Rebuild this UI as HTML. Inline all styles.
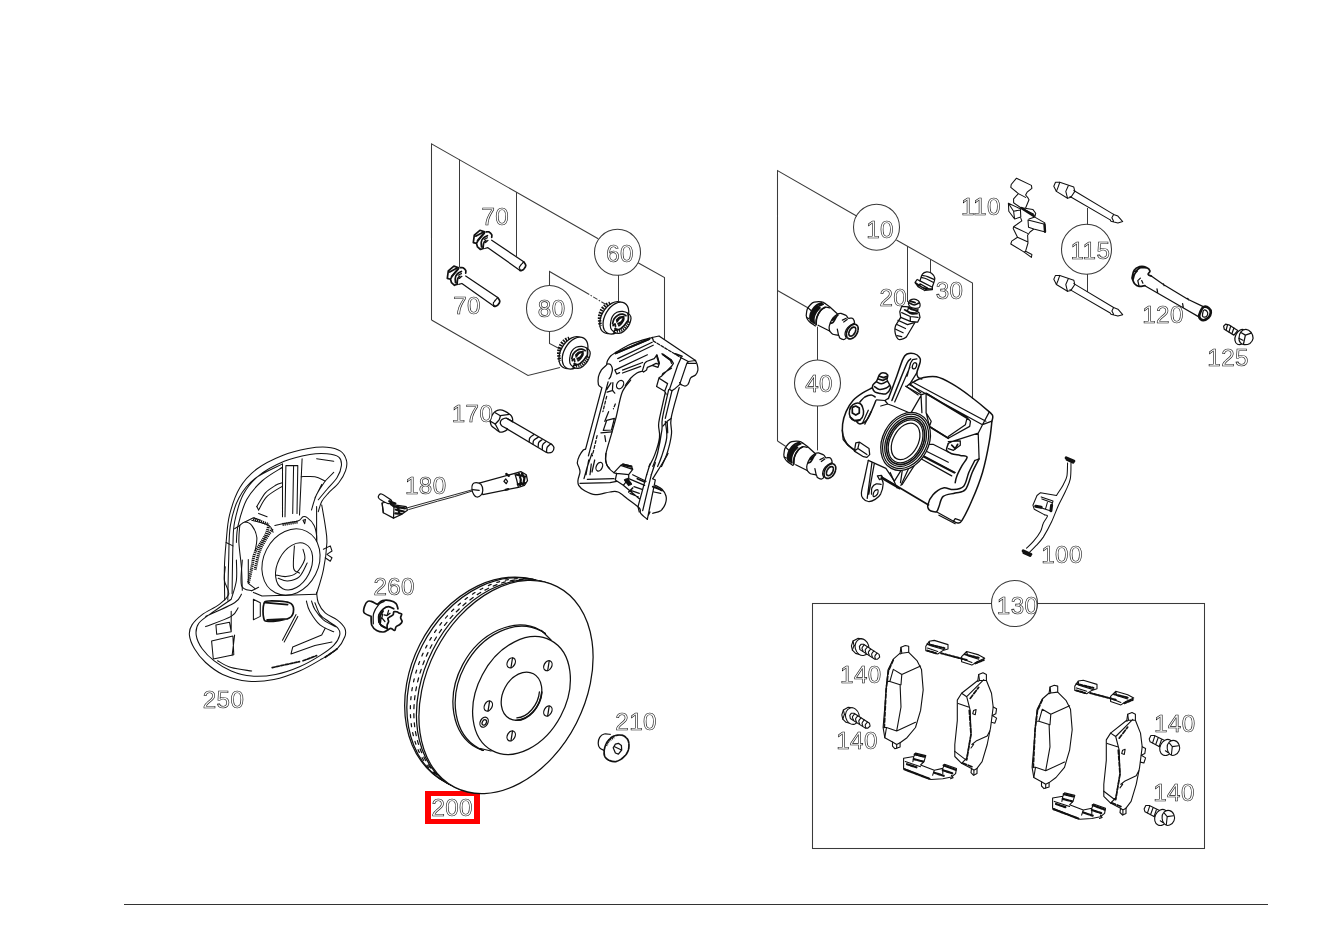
<!DOCTYPE html>
<html lang="en">
<head>
<meta charset="utf-8">
<title>Front brake parts diagram</title>
<style>
html,body{margin:0;padding:0;background:#fff;}
body{width:1326px;height:937px;overflow:hidden;font-family:"Liberation Sans",sans-serif;}
svg{display:block;stroke-width:1.25px;}
.l{fill:none;stroke:#111;stroke-width:inherit;stroke-linecap:round;stroke-linejoin:round;}
.w{fill:#fff;stroke:#111;stroke-width:inherit;stroke-linecap:round;stroke-linejoin:round;}
.k{fill:none;stroke:#111;stroke-width:1.7;stroke-linecap:round;stroke-linejoin:round;}
.d{fill:#222;stroke:none;}
.lead{fill:none;stroke:#3a3a3a;stroke-width:1.05;}
.t{font-family:"Liberation Sans",sans-serif;font-size:24.2px;fill:#fff;stroke:#111;stroke-width:0.62;letter-spacing:0.4px;filter:grayscale(1);}
</style>
</head>
<body>
<svg width="1326" height="937" viewBox="0 0 1326 937">
<rect x="0" y="0" width="1326" height="937" fill="#fff"/>
<!-- 01_frame.svg -->
<g id="page-rule">
<line x1="124" y1="904.5" x2="1268" y2="904.5" stroke="#333" stroke-width="1.2"/>
</g>
<g id="leaders" class="lead">
<!-- group 60 -->
<path d="M431.5 320 V143.8 L598.2 238.7"/>
<path d="M638 262.7 L664.5 277.5 V340"/>
<path d="M431.5 320 L528 375.5 L560 367.5"/>
<path d="M459.5 159.5 V268"/>
<path d="M516.5 192 V256.5"/>
<path d="M618.5 275 V301.5"/>
<circle cx="617.5" cy="252.3" r="23"/>
<!-- group 80 -->
<path d="M549.5 285.5 V271.5 L585 292"/>
<path d="M585 292 L606 304.5" stroke-dasharray="5 1.5 1.5 1.5"/>
<path d="M549.5 331 V343.5 L561 349.5"/>
<circle cx="549.5" cy="308.4" r="23"/>
<!-- group 10 -->
<path d="M777.5 441 V170.6 L857 216.2"/>
<path d="M896.4 240 L972.5 283 V399"/>
<path d="M907.5 246 V302"/>
<path d="M930.5 259.2 V273"/>
<circle cx="876.5" cy="227.2" r="23"/>
<!-- group 40 -->
<path d="M777.5 290.5 L807.8 307.8"/>
<path d="M777.5 441 L785.5 446.3"/>
<path d="M817.5 325 V360"/>
<path d="M817.5 406 V450.4"/>
<circle cx="817.5" cy="383" r="23"/>
<!-- group 115 -->
<path d="M1087.5 208 V224.5"/>
<path d="M1087.5 274 V292"/>
<circle cx="1086.5" cy="249.3" r="25"/>
<!-- group 130 -->
<rect x="812.5" y="603.5" width="392" height="245"/>
<circle cx="1014.5" cy="603.5" r="23" fill="#fff"/>
</g>
<g id="highlight">
<path d="M425 791 H480 V824 H425 Z M431 796 V819 H474 V796 Z" fill="#ff0000" fill-rule="evenodd"/>
</g>

<!-- 10_disc.svg -->
<g id="disc200">
<ellipse class="w" cx="496" cy="683.3" rx="85.5" ry="111" transform="rotate(27 496 683.3)"/>
<ellipse class="l" cx="497.5" cy="683.9" rx="84.5" ry="111.3" transform="rotate(27 497.5 683.9)"/>
<ellipse class="l" cx="500" cy="684.8" rx="83" ry="111.6" transform="rotate(27 500 684.8)" stroke-dasharray="3 6"/>
<ellipse class="l" cx="502.5" cy="685.7" rx="81.5" ry="112" transform="rotate(27 502.5 685.7)" stroke-dasharray="4 5"/>
<ellipse class="w" cx="504.3" cy="686.4" rx="80.3" ry="112.4" transform="rotate(27 504.3 686.4)"/>
<ellipse class="w" cx="506" cy="687" rx="79.1" ry="112.7" transform="rotate(27 506 687)"/>
<clipPath id="hatclip"><path d="M546 633.5 L484 750.5 L440 780 L430 600 L550 600 Z"/></clipPath>
<g clip-path="url(#hatclip)">
<ellipse class="l" cx="508.5" cy="689" rx="51.9" ry="66.9" transform="rotate(28 508.5 689)"/>
<ellipse class="l" cx="510" cy="689.7" rx="51" ry="66.4" transform="rotate(28 510 689.7)"/>
</g>
<path class="l" d="M541.5 630.5 L551 640 M480.5 748.5 L491 751"/>
<ellipse class="w" cx="521.5" cy="695.5" rx="44.3" ry="62.4" transform="rotate(28 521.5 695.5)"/>
<g transform="rotate(28 521.5 696.2)">
<ellipse class="l" cx="521.5" cy="696.2" rx="18.6" ry="25.4"/>
<path class="k" d="M537.5 683 A18.6 25.4 0 0 1 528 720"/>
<path class="l" d="M535.3 684 A16 23 0 0 1 527.5 717.5"/>
</g>
<g class="l">
<ellipse cx="511.2" cy="662.8" rx="3.8" ry="5.3" transform="rotate(28 511.2 662.8)"/>
<ellipse cx="547.9" cy="665.7" rx="3.8" ry="5.3" transform="rotate(28 547.9 665.7)"/>
<ellipse cx="488.3" cy="706" rx="3.8" ry="5.3" transform="rotate(28 488.3 706)"/>
<ellipse cx="547.9" cy="711" rx="3.8" ry="5.3" transform="rotate(28 547.9 711)"/>
<ellipse cx="511.2" cy="735.9" rx="3.8" ry="5.3" transform="rotate(28 511.2 735.9)"/>
<ellipse cx="484.1" cy="722.2" rx="3.8" ry="5.3" transform="rotate(28 484.1 722.2)"/>
<ellipse cx="484.3" cy="722.4" rx="2" ry="2.9" transform="rotate(28 484.3 722.4)"/>
<path d="M512.5 658 L511 667.5 M549.2 661 L547.7 670.5 M489.6 701.2 L488.1 710.7 M549.2 706.2 L547.7 715.7 M512.5 731.1 L511 740.6"/>
</g>
</g>

<!-- 11_shield.svg -->
<g id="shield250" style="stroke-width:1.05px">
<path class="l" d="M224.7 600.0 C224.7 594.7 224.2 577.7 224.4 568.1 C224.6 558.5 225.3 551.3 226.1 542.5 C227.0 533.6 227.2 524.2 229.5 515.1 C231.8 506.0 235.2 495.5 239.8 487.8 C244.3 480.1 249.7 474.4 256.8 469.0 C264.0 463.6 273.9 458.8 282.5 455.4 C291.0 452.0 300.7 449.9 308.1 448.5 C315.5 447.2 321.5 446.7 326.9 447.2 C332.3 447.6 337.2 448.9 340.5 451.1 C343.8 453.3 345.6 457.2 346.5 460.5 C347.3 463.8 346.9 467.0 345.6 470.7 C344.4 474.4 341.7 479.0 338.8 482.7 C336.0 486.4 331.4 489.8 328.6 492.9 C325.7 496.1 323.4 498.3 321.7 501.5 C320.0 504.6 318.9 510.0 318.3 511.7 M232.1 593.7 C232.2 585.7 232.5 557.8 232.9 545.9 C233.4 533.9 232.9 530.5 234.6 522.0 C236.4 513.4 239.2 502.3 243.2 494.6 C247.2 487.0 251.7 481.4 258.6 475.9 C265.4 470.3 275.6 464.9 284.2 461.3 C292.7 457.8 302.7 455.8 309.8 454.5 C316.9 453.2 322.0 453.2 326.9 453.7 C331.7 454.1 336.4 455.1 338.8 457.1 C341.2 459.1 341.7 462.2 341.4 465.6 C341.1 469.0 339.5 473.6 337.1 477.6 C334.7 481.6 330.0 485.8 326.9 489.5 C323.7 493.2 319.7 498.1 318.3 499.8 M227.8 600.0 C228.0 593.3 228.2 572.0 228.7 559.5 C229.1 547.1 228.7 535.6 230.4 525.4 C232.1 515.1 234.8 505.9 238.9 498.1 C243.0 490.2 247.9 484.1 255.1 478.4 C262.4 472.7 277.9 466.3 282.5 463.9 M236.4 542.5 C236.6 539.6 236.4 532.5 238.1 525.4 C239.8 518.3 242.6 507.2 246.6 499.8 C250.6 492.4 256.0 486.4 262.0 481.0 C267.9 475.6 279.0 469.6 282.5 467.3 M256.8 506.6 C258.3 504.3 262.3 496.5 265.4 492.9 C268.5 489.4 272.8 487.0 275.6 485.3 C278.5 483.5 281.3 483.1 282.5 482.7 M258.6 510.0 C260.0 507.7 263.1 500.3 267.1 496.4 C271.1 492.4 279.9 487.8 282.5 486.1 M301.2 476.7 C303.5 476.7 310.9 476.0 314.9 476.7 C318.9 477.4 323.4 480.3 325.2 481.0 M325.2 481.0 C323.7 483.3 318.9 489.8 316.6 494.6 C314.3 499.5 312.3 507.5 311.5 510.0 M321.7 484.4 L314.9 498.1 M274.8 525.4 C276.1 525.1 278.6 524.4 282.5 523.7 C286.3 523.0 294.4 522.3 297.8 521.1 C301.2 520.0 301.4 517.4 303.0 516.8 C304.5 516.3 305.4 516.3 307.2 517.7 C309.1 519.1 312.5 522.4 314.1 525.4 C315.6 528.4 316.2 532.2 316.6 535.6 C317.0 539.0 316.6 544.2 316.6 545.9 M239.8 525.4 C240.6 524.8 242.9 522.0 244.9 522.0 C246.9 522.0 249.7 522.8 251.7 525.4 C253.7 527.9 256.3 533.1 256.8 537.3 C257.4 541.6 255.4 548.7 255.1 551.0 M239.8 525.4 C239.6 528.2 238.6 535.3 238.9 542.5 C239.2 549.6 240.9 560.1 241.5 568.1 C242.0 576.0 242.2 586.6 242.3 590.3 M294.4 545.9 C294.3 549.6 292.7 563.5 293.6 568.1 C294.4 572.6 298.5 572.3 299.5 573.2 M275.6 574.9 C277.3 575.2 282.5 576.9 285.9 576.6 C289.3 576.3 293.0 576.0 296.1 573.2 C299.3 570.4 303.5 563.5 304.7 559.5 C305.8 555.6 303.2 551.0 303.0 549.3 M321.7 504.9 C322.3 508.3 324.3 519.1 325.2 525.4 C326.0 531.6 327.1 535.1 326.9 542.5 C326.6 549.9 325.2 561.2 323.4 569.8 C321.7 578.3 317.8 589.7 316.6 593.7 M251.7 520.3 C254.6 521.1 265.2 523.4 268.8 525.4 C272.4 527.4 272.4 531.1 273.1 532.2"/>
<path class="l" d="M282.5 463.9 L282.5 516.8 M285.9 465.6 L285.0 516.8 M293.6 465.6 L292.7 513.4 M297.8 465.6 L297.0 513.4 M302.1 458.8 L299.5 515.1 M325.2 481.0 L333.7 472.4 M316.6 506.6 L316.6 545.9 M256.8 506.6 L258.6 510.0 M323.4 549.3 L330.3 545.9 L332.0 551.0 L326.9 554.4 L332.0 557.8 L330.3 561.2 L325.2 557.8 M303.0 520.3 L305.5 519.4 L304.7 523.7 Z M244.9 522.0 L253.4 517.7 L260.3 520.3 M285.9 465.6 L297.8 465.6 M316.6 458.8 L333.7 461.3 M258.6 513.4 L267.1 516.8 M248.3 559.5 L248.3 583.4 L255.1 588.6 M234.6 528.8 L239.8 525.4 M226.1 542.5 L232.9 545.9"/>
<path class="k" stroke-dasharray="1.2 0.8" style="stroke-width:3;stroke-linecap:butt" d="M253.4 518.6 L268.8 524.5 M268.8 525.4 C268.2 527.1 267.7 531.1 265.4 535.6 C263.1 540.2 257.4 547.3 255.1 552.7 C252.9 558.1 252.9 563.0 251.7 568.1 C250.6 573.2 248.9 580.9 248.3 583.4 M272.2 528.8 C270.2 532.2 263.1 542.5 260.3 549.3 C257.4 556.1 256.0 566.4 255.1 569.8 M282.5 524.5 L297.8 522.0"/>
<ellipse class="w" cx="291.0" cy="562.1" rx="27.5" ry="34.5" transform="rotate(27 291.0 562.1)"/>
<ellipse class="w" cx="294.1" cy="566.4" rx="16.5" ry="25" transform="rotate(27 294.1 566.4)"/>
<path class="l" d="M294.4 545.9 C294.3 549.6 292.7 563.5 293.6 568.1 C294.4 572.6 298.5 572.3 299.5 573.2 M275.6 574.9 C277.3 575.2 282.5 576.9 285.9 576.6 C289.3 576.3 293.0 576.0 296.1 573.2 C299.3 570.4 303.5 563.5 304.7 559.5 C305.8 555.6 303.2 551.0 303.0 549.3 M278.2 578.3 C279.8 578.7 284.0 581.2 287.6 580.9 C291.1 580.6 296.3 579.6 299.5 576.6 C302.8 573.6 305.9 565.2 307.2 563.0"/>
<path class="l" d="M225.3 566.8 C225.1 569.1 223.8 575.9 224.4 580.5 C225.0 585.0 229.5 590.2 228.7 594.2 C227.8 598.1 223.7 601.0 219.3 604.4 C214.9 607.8 206.8 611.2 202.2 614.6 C197.6 618.1 194.1 621.5 192.0 624.9 C189.8 628.3 189.0 631.2 189.4 635.1 C189.8 639.1 191.8 644.2 194.5 648.8 C197.2 653.4 200.9 658.2 205.6 662.5 C210.3 666.7 215.6 671.3 222.7 674.4 C229.8 677.5 239.8 680.4 248.3 681.2 C256.8 682.1 265.4 681.2 273.9 679.5 C282.5 677.8 291.6 674.4 299.5 671.0 C307.5 667.6 315.5 662.7 321.7 659.0 C328.0 655.3 333.3 652.5 337.1 648.8 C340.9 645.1 343.5 640.3 344.8 636.8 C346.1 633.4 346.1 631.2 344.8 628.3 C343.5 625.5 340.4 622.3 337.1 619.8 C333.8 617.2 328.3 615.8 325.2 612.9 C322.0 610.1 319.7 606.1 318.3 602.7 C316.9 599.3 316.9 594.2 316.6 592.4 M231.2 599.3 C228.4 601.3 219.6 607.2 214.2 611.2 C208.7 615.2 201.8 619.2 198.8 623.2 C195.8 627.2 195.7 630.9 196.2 635.1 C196.8 639.4 199.2 644.5 202.2 648.8 C205.2 653.1 209.3 657.1 214.2 660.8 C219.0 664.5 225.0 668.4 231.2 671.0 C237.5 673.6 244.3 675.6 251.7 676.1 C259.1 676.7 267.7 676.0 275.6 674.4 C283.6 672.8 292.1 669.9 299.5 666.7 C306.9 663.6 314.3 659.2 320.0 655.6 C325.7 652.1 330.4 648.8 333.7 645.4 C337.0 642.0 339.0 638.0 339.7 635.1 C340.4 632.3 339.8 630.6 338.0 628.3 C336.1 626.0 331.6 623.8 328.6 621.5 C325.6 619.2 322.3 617.8 320.0 614.6 C317.8 611.5 315.8 604.7 314.9 602.7 M205.6 616.4 C210.5 614.1 228.7 606.4 234.6 602.7 C240.6 599.0 240.3 595.6 241.5 594.2 M205.6 626.6 C209.9 624.9 225.8 619.5 231.2 616.4 C236.6 613.2 236.9 609.2 238.1 607.8 M306.4 601.0 C306.9 602.7 307.5 607.2 309.8 611.2 C312.1 615.2 316.0 621.5 320.0 624.9 C324.0 628.3 331.4 630.6 333.7 631.7 M311.5 601.0 C312.1 602.4 312.9 606.4 314.9 609.5 C316.9 612.7 320.0 616.9 323.4 619.8 C326.9 622.6 333.4 625.5 335.4 626.6 M217.6 660.8 C219.8 661.9 225.5 665.9 231.2 667.6 C236.9 669.3 248.3 670.4 251.7 671.0 M236.4 560.0 C236.4 563.4 237.2 573.9 236.4 580.5 C235.5 587.0 232.1 596.1 231.2 599.3 M242.3 560.0 C242.2 564.3 239.9 580.5 241.5 585.6 C243.0 590.7 250.0 589.9 251.7 590.7"/>
<path class="l" d="M215.9 624.9 L229.5 622.3 L231.2 631.7 L216.7 634.3 Z M211.6 641.1 L232.9 636.0 L233.8 654.8 L213.3 659.0 Z M231.2 611.2 L231.2 631.7 M234.6 635.1 L232.1 655.6 M253.4 599.3 L260.3 602.7 L260.3 616.4 L253.4 619.8 Z M296.1 614.6 L282.5 640.3 M297.8 616.4 L284.2 642.0 M325.2 628.3 L321.7 635.1 L292.7 647.1 L291.0 653.9 L314.9 645.4 L332.0 642.0 M253.4 592.4 L262.0 595.9 L316.6 594.2 M251.7 590.7 L258.6 587.3 M215.9 624.9 L216.7 634.3 M211.6 641.1 L213.3 659.0"/>
<path class="k" d="M263.7 604.4 C264.5 601.6 264.5 601.3 268.8 601.0 C273.1 600.7 285.2 601.3 289.3 602.7 C293.4 604.1 293.6 607.0 293.6 609.5 C293.6 612.1 293.4 616.1 289.3 618.1 C285.2 620.1 273.1 621.5 268.8 621.5 C264.5 621.5 264.5 620.9 263.7 618.1 C262.8 615.2 262.8 607.2 263.7 604.4 Z M265.4 602.7 L287.6 604.7 M267.1 619.8 L287.6 618.9"/>
<path class="k" stroke-dasharray="3 1.5" d="M272.2 667.6 L299.5 661.6 M303.0 660.8 L316.6 655.6 M325.2 657.3 L337.1 648.8"/>
</g>
<!-- 20_carrier.svg -->
<g id="carrier60">
<path class="l" d="M606.6 364.4 C606.8 363.7 606.9 362.0 607.6 360.5 C608.3 359.1 609.4 357.2 610.9 355.7 C612.5 354.3 613.8 353.7 616.7 351.9 C619.6 350.1 624.5 346.9 628.2 345.2 C631.9 343.4 635.1 342.5 638.8 341.3 C642.5 340.1 648.1 338.6 650.3 338.0 C652.6 337.3 651.9 337.6 652.2 337.5 M695.5 360.5 C695.8 361.3 697.0 363.7 697.4 365.3 C697.8 366.9 698.2 368.5 697.9 370.1 C697.6 371.7 696.7 373.7 695.5 375.0 C694.3 376.2 691.7 376.7 690.7 377.8 C689.6 379.0 689.7 380.6 689.2 381.7 C688.7 382.8 688.5 383.8 687.8 384.6 C687.1 385.3 686.0 386.0 684.9 386.0 C683.8 386.0 681.7 384.8 681.1 384.6 M625.3 385.5 C626.1 384.4 628.2 380.9 630.1 378.8 C632.1 376.7 634.8 374.3 636.9 373.0 C639.0 371.7 641.7 371.4 642.6 371.1 M606.6 364.4 C607.0 364.3 608.2 363.7 609.0 363.9 C609.8 364.1 610.9 364.8 611.4 365.8 C612.0 366.9 612.5 368.3 612.4 370.1 C612.2 372.0 610.8 375.8 610.5 376.9 M606.6 364.9 C605.7 365.7 602.7 368.1 601.3 370.1 C600.0 372.2 598.9 374.5 598.4 376.9 C598.0 379.3 598.0 382.8 598.4 384.6 C598.9 386.3 600.9 387.0 601.3 387.4"/>
<path class="l" d="M652.2 337.5 L659.0 336.0 L695.5 360.5 M615.7 353.8 L649.4 339.4 M616.2 352.9 L649.8 338.4 M617.7 358.6 L652.2 342.3 M619.6 361.5 L653.2 345.2 M614.8 370.1 L647.4 354.8 M622.5 370.1 L642.6 362.5 M622.5 373.0 L640.7 366.3 M614.8 370.1 L616.7 374.0 L619.6 372.6 M642.6 371.1 L643.6 372.1 L646.5 370.1 L647.4 367.3 L652.2 365.3 L658.0 367.3 L659.4 363.4 L657.0 354.8 L654.2 358.6 L646.5 361.5 L644.6 363.4 L642.6 370.1 M652.2 365.3 L656.1 363.4 L659.0 364.4 M661.8 353.8 L671.5 360.1 L673.4 363.4 L671.5 366.3 L661.8 375.9 L659.0 377.8 L656.6 386.5 L664.7 391.3 L667.6 383.6 L659.9 378.8 L659.0 377.8 M662.8 354.8 L670.5 360.5 L671.5 363.4 M664.7 391.3 L666.2 394.2 M661.8 375.9 L662.8 373.5 L671.5 368.2 M681.1 357.7 L677.7 365.3 L669.5 389.4 L671.9 390.8 L675.3 388.4 L679.6 384.6 L686.8 363.4 L688.3 361.5 L695.5 360.5 M681.1 357.7 L688.3 361.5 M686.8 363.4 L695.5 363.4 M610.5 376.9 L609.0 378.8 M612.9 382.6 L612.4 390.3 L614.8 393.2 M607.1 392.2 L612.9 390.3 M681.1 384.6 L679.6 382.6"/>
<path class="l" stroke-dasharray="3 1.5" d="M653.2 340.9 L681.1 357.7 M652.2 337.5 L653.7 341.3"/>
<path class="k" d="M615.7 353.3 L649.6 338.9 M656.6 355.3 L659.0 363.4 M662.8 354.3 L671.0 360.1 M675.3 353.8 L682.0 356.2"/>
<path class="l" d="M630.7 380.0 C629.3 382.1 624.5 386.4 622.1 392.5 C619.7 398.6 618.1 409.6 616.3 416.5 C614.5 423.4 613.3 427.4 611.5 433.8 C609.7 440.2 606.5 449.8 605.7 454.9 C604.9 460.1 606.1 462.3 606.7 464.5 C607.3 466.8 609.1 467.7 609.6 468.4 M665.3 392.5 C664.3 396.8 660.7 412.8 659.5 418.4 C658.4 424.0 658.6 422.9 658.6 426.1 C658.6 429.3 660.2 432.8 659.5 437.6 C658.9 442.4 656.5 450.1 654.7 454.9 C653.0 459.7 649.9 464.5 649.0 466.5 M668.7 389.6 C667.6 394.4 663.5 411.7 662.4 418.4 C661.3 425.1 662.7 424.2 661.9 430.0 C661.1 435.7 659.1 446.9 657.6 453.0 C656.1 459.1 653.6 464.2 652.8 466.5 M665.3 421.3 C665.5 424.0 667.4 431.7 666.7 437.6 C666.1 443.6 663.0 452.0 661.5 456.8 C659.9 461.7 658.3 464.9 657.6 466.5 M679.2 387.7 C677.9 392.8 672.3 410.7 671.1 418.4 C669.8 426.1 672.2 428.0 671.5 433.8 C670.9 439.6 668.9 447.6 667.2 453.0 C665.5 458.5 662.4 464.2 661.5 466.5"/>
<path class="l" d="M601.9 387.7 L585.6 449.2 M608.1 381.9 L588.4 455.9 M611.0 382.9 L606.7 389.6 M672.0 390.6 L665.3 418.4 M606.7 420.3 L614.4 418.4 L611.5 430.0 L603.3 430.4 Z M600.9 432.8 L612.0 431.9 M608.6 411.7 L604.8 421.3 M604.8 435.7 L605.7 441.5 M671.1 418.4 L667.2 421.3 L662.9 426.1 M667.2 421.3 L667.7 432.8"/>
<path class="l" stroke-dasharray="3 2" d="M606.7 396.3 L602.9 411.7 M597.1 435.7 L592.3 455.9 M615.3 404.0 L613.4 408.8"/>
<path class="l" d="M585.3 449.3 C585.0 449.4 584.3 448.9 583.3 450.0 C582.3 451.1 580.3 453.9 579.3 456.0 C578.3 458.1 577.4 460.9 577.3 462.7 C577.2 464.4 578.2 465.1 578.7 466.7 C579.1 468.2 580.1 469.8 580.0 472.0 C579.9 474.2 578.2 477.8 578.0 480.0 C577.8 482.2 577.6 483.6 578.7 485.3 C579.8 487.1 581.9 489.1 584.7 490.7 C587.4 492.2 591.1 494.4 595.3 494.7 C599.6 494.9 606.2 492.4 610.0 492.0 C613.8 491.6 615.1 490.9 618.0 492.0 C620.9 493.1 623.8 496.0 627.3 498.7 C630.9 501.3 637.1 505.6 639.3 508.0 C641.6 510.4 639.3 511.4 640.7 513.3 C642.0 515.2 646.2 518.3 647.3 519.3 M606.0 453.3 C606.0 454.7 605.3 458.9 605.7 461.3 C606.2 463.8 607.3 466.1 608.7 468.0 C610.0 469.9 612.7 471.8 614.0 472.7 C615.3 473.6 616.2 473.2 616.7 473.3 M668.0 453.3 C667.7 454.0 668.1 453.8 666.0 457.3 C663.9 460.9 657.6 471.1 655.3 474.7 C653.1 478.2 653.1 478.0 652.7 478.7 M655.3 485.3 C656.4 486.0 660.2 487.6 662.0 489.3 C663.8 491.1 665.4 493.6 666.0 496.0 C666.6 498.4 666.2 501.6 665.3 504.0 C664.4 506.4 662.8 509.1 660.7 510.7 C658.6 512.2 654.0 512.9 652.7 513.3 M650.0 464.0 L646.7 474.7 M655.3 462.7 L651.3 474.7"/>
<path class="l" d="M592.0 453.3 L587.3 466.7 L584.0 478.7 M587.3 479.3 L614.0 478.7 M580.0 483.3 L610.0 482.7 L616.7 481.3 M646.7 474.7 L638.0 506.7 L639.3 512.0 M651.3 474.7 L642.7 510.7 M655.3 480.0 L648.0 516.0 L647.3 519.3 M652.7 478.7 L655.3 480.0 M650.0 512.0 L648.0 516.0 M614.0 472.7 L620.7 465.3 L632.7 469.3 L628.7 474.7 L616.7 473.3 M620.7 465.3 L623.3 464.0 L631.3 466.0 L632.7 469.3 M616.7 473.3 L615.3 480.0 L623.3 485.3 L628.7 478.7 L628.7 474.7 M623.3 485.3 L639.3 498.7 M628.7 478.7 L644.7 485.3 M632.7 474.7 L646.0 481.3 M631.3 490.7 L639.3 493.3 M630.0 493.3 L638.0 496.7 M634.0 486.7 L642.0 489.3 M588.7 460.0 L586.0 474.7 M591.3 464.0 L590.0 474.7 M594.7 460.0 L592.0 472.0 M655.3 486.7 L662.0 490.7 M654.0 492.0 L660.7 493.3"/>
<path class="k" d="M622.7 464.3 L631.6 466.3 M623.3 465.1 L631.1 466.9 M655.3 487.3 L662.0 490.4 M637.3 478.7 L644.7 482.0 M624.7 480.0 L628.7 485.3 M626.0 479.3 L630.0 484.7 M627.3 478.7 L631.3 484.0 M628.7 492.0 L632.7 488.0 M652.7 486.7 L659.3 489.3"/>
<ellipse class="l" cx="620.1" cy="384.6" rx="3.2" ry="4.5" transform="rotate(30 620.1 384.6)"/>
<ellipse class="l" cx="599.3" cy="466.7" rx="3" ry="4.6" transform="rotate(25 599.3 466.7)"/>
</g>
<!-- 21_nuts.svg -->
<g id="nuts80">
<g transform="translate(0.0 0.0)">
<ellipse class="w" cx="612.6" cy="317.6" rx="11" ry="17.3" transform="rotate(30 612.6 317.6)"/>
<path class="k" stroke-dasharray="1.6 1.1" style="stroke-width:3.4;stroke-linecap:butt" d="M610.2 303.2 C609.5 303.5 607.2 304.0 605.9 305.1 C604.5 306.1 603.0 307.7 602.0 309.4 C601.0 311.1 600.2 313.3 599.8 315.2 C599.4 317.1 599.5 319.1 599.6 320.9 C599.7 322.8 600.4 325.3 600.6 326.2"/>
<ellipse class="w" cx="615.9" cy="318.1" rx="11" ry="17.3" transform="rotate(30 615.9 318.1)"/>
<path class="w" d="M610.7 321.9 C611.0 319.9 611.5 317.7 612.6 316.1 C613.6 314.5 615.2 313.1 616.9 312.3 C618.6 311.5 620.8 311.2 622.7 311.3 C624.5 311.5 626.6 312.4 627.9 313.3 C629.3 314.1 630.4 315.3 630.8 316.6 C631.3 317.9 631.0 319.3 630.6 320.9 C630.2 322.5 629.6 324.5 628.4 326.2 C627.3 328.0 625.2 330.3 623.6 331.5 C622.0 332.7 620.4 333.3 618.8 333.4 C617.2 333.5 615.4 332.9 614.0 332.0 C612.7 331.1 611.2 329.8 610.7 328.1 C610.1 326.5 610.3 323.9 610.7 321.9 Z"/>
<path class="k" d="M612.6 323.8 C612.8 323.0 613.1 320.5 614.0 319.0 C614.9 317.6 616.4 316.0 617.9 315.2 C619.3 314.4 621.3 314.1 622.7 314.2 C624.0 314.3 625.5 315.4 626.0 315.7 M615.0 328.6 C615.6 328.8 617.4 330.0 618.8 329.6 C620.3 329.2 622.2 327.7 623.6 326.2 C625.1 324.8 626.8 321.8 627.5 320.9 M616.9 321.9 C617.3 321.3 618.3 319.4 619.3 318.5 C620.3 317.7 622.5 316.9 623.1 316.6 M627.9 313.3 C628.0 314.0 628.4 316.1 628.4 317.6 C628.4 319.0 628.0 321.2 627.9 321.9 M614.0 332.0 C614.2 331.7 614.5 330.3 615.0 330.1 C615.5 329.8 616.6 330.5 616.9 330.5 M618.8 325.7 C619.2 325.4 620.4 324.8 621.2 323.8 C622.0 322.9 623.2 320.6 623.6 320.0 M613.1 325.7 C613.4 325.4 614.6 323.7 615.0 323.8 C615.4 324.0 615.4 326.2 615.5 326.7"/>
<path class="k" stroke-dasharray="1.2 1" style="stroke-width:2.6;stroke-linecap:butt" d="M616.9 331.5 C617.7 331.3 620.1 331.4 621.7 330.5 C623.3 329.7 625.2 327.8 626.5 326.2 C627.8 324.6 628.9 321.8 629.4 320.9"/>
<path class="k" style="stroke-width:2.2" d="M616.9 320.0 C617.4 319.6 618.7 318.1 619.8 317.6 C620.9 317.1 623.0 317.0 623.6 316.9 M618.3 323.8 C618.9 323.5 620.8 322.8 621.7 321.9 C622.6 321.0 623.3 319.1 623.6 318.5"/>
</g>
<g transform="translate(-40.8 35.0)">
<ellipse class="w" cx="612.6" cy="317.6" rx="11" ry="17.3" transform="rotate(30 612.6 317.6)"/>
<path class="k" stroke-dasharray="1.6 1.1" style="stroke-width:3.4;stroke-linecap:butt" d="M610.2 303.2 C609.5 303.5 607.2 304.0 605.9 305.1 C604.5 306.1 603.0 307.7 602.0 309.4 C601.0 311.1 600.2 313.3 599.8 315.2 C599.4 317.1 599.5 319.1 599.6 320.9 C599.7 322.8 600.4 325.3 600.6 326.2"/>
<ellipse class="w" cx="615.9" cy="318.1" rx="11" ry="17.3" transform="rotate(30 615.9 318.1)"/>
<path class="w" d="M610.7 321.9 C611.0 319.9 611.5 317.7 612.6 316.1 C613.6 314.5 615.2 313.1 616.9 312.3 C618.6 311.5 620.8 311.2 622.7 311.3 C624.5 311.5 626.6 312.4 627.9 313.3 C629.3 314.1 630.4 315.3 630.8 316.6 C631.3 317.9 631.0 319.3 630.6 320.9 C630.2 322.5 629.6 324.5 628.4 326.2 C627.3 328.0 625.2 330.3 623.6 331.5 C622.0 332.7 620.4 333.3 618.8 333.4 C617.2 333.5 615.4 332.9 614.0 332.0 C612.7 331.1 611.2 329.8 610.7 328.1 C610.1 326.5 610.3 323.9 610.7 321.9 Z"/>
<path class="k" d="M612.6 323.8 C612.8 323.0 613.1 320.5 614.0 319.0 C614.9 317.6 616.4 316.0 617.9 315.2 C619.3 314.4 621.3 314.1 622.7 314.2 C624.0 314.3 625.5 315.4 626.0 315.7 M615.0 328.6 C615.6 328.8 617.4 330.0 618.8 329.6 C620.3 329.2 622.2 327.7 623.6 326.2 C625.1 324.8 626.8 321.8 627.5 320.9 M616.9 321.9 C617.3 321.3 618.3 319.4 619.3 318.5 C620.3 317.7 622.5 316.9 623.1 316.6 M627.9 313.3 C628.0 314.0 628.4 316.1 628.4 317.6 C628.4 319.0 628.0 321.2 627.9 321.9 M614.0 332.0 C614.2 331.7 614.5 330.3 615.0 330.1 C615.5 329.8 616.6 330.5 616.9 330.5 M618.8 325.7 C619.2 325.4 620.4 324.8 621.2 323.8 C622.0 322.9 623.2 320.6 623.6 320.0 M613.1 325.7 C613.4 325.4 614.6 323.7 615.0 323.8 C615.4 324.0 615.4 326.2 615.5 326.7"/>
<path class="k" stroke-dasharray="1.2 1" style="stroke-width:2.6;stroke-linecap:butt" d="M616.9 331.5 C617.7 331.3 620.1 331.4 621.7 330.5 C623.3 329.7 625.2 327.8 626.5 326.2 C627.8 324.6 628.9 321.8 629.4 320.9"/>
<path class="k" style="stroke-width:2.2" d="M616.9 320.0 C617.4 319.6 618.7 318.1 619.8 317.6 C620.9 317.1 623.0 317.0 623.6 316.9 M618.3 323.8 C618.9 323.5 620.8 322.8 621.7 321.9 C622.6 321.0 623.3 319.1 623.6 318.5"/>
</g>
</g>
<!-- 22_bolts70.svg -->
<g id="bolts70">
<g transform="translate(0.0 0.0)">
<path class="w" style="stroke:none" d="M473.3 242.6 L474.3 235.1 L479.9 230.3 L489.0 231.9 L491.7 240.2 L523.7 261.8 L525.8 265.6 L521.0 270.6 L484.7 248.5 L480.5 249.5 Z"/>
<path class="k" d="M473.3 242.6 L474.3 235.1 L479.9 230.3 L484.7 231.9 L484.2 233.5 L477.8 241.0 L476.5 243.4 Z M476.5 243.4 L477.5 246.9 L480.5 249.5 L483.1 248.5 M475.7 236.2 L482.6 232.5"/>
<path class="l" d="M477.3 240.5 L483.7 233.0 M491.7 240.2 L523.7 261.8 M484.7 248.5 L487.9 247.7 L520.0 270.4"/>
<path class="k" d="M481.5 246.9 C481.5 246.1 481.0 243.5 481.3 242.1 C481.5 240.7 482.1 239.4 483.1 238.3 C484.2 237.3 486.7 236.1 487.4 235.7 M486.3 231.9 C486.8 231.9 488.1 231.5 489.0 231.9 C489.9 232.4 491.2 233.7 491.7 234.6 C492.1 235.5 491.7 236.8 491.7 237.3 M483.1 248.5 C483.2 247.6 483.2 244.5 483.7 243.1 C484.1 241.8 485.5 240.9 485.8 240.5 M523.7 261.8 C524.1 262.4 525.8 264.3 525.8 265.6 C525.8 266.8 524.5 268.4 523.7 269.3 C522.9 270.1 521.7 270.4 521.0 270.6 C520.4 270.8 520.1 270.4 520.0 270.4"/>
<path class="l" stroke-dasharray="1.5 1" d="M523.2 262.4 C522.5 263.2 519.9 265.8 519.4 267.2 C519.0 268.5 520.3 269.8 520.5 270.4 M484.2 239.4 L487.4 237.8 M485.3 242.6 L487.9 240.5"/>
</g>
<g transform="translate(-26.0 35.8)">
<path class="w" style="stroke:none" d="M473.3 242.6 L474.3 235.1 L479.9 230.3 L489.0 231.9 L491.7 240.2 L523.7 261.8 L525.8 265.6 L521.0 270.6 L484.7 248.5 L480.5 249.5 Z"/>
<path class="k" d="M473.3 242.6 L474.3 235.1 L479.9 230.3 L484.7 231.9 L484.2 233.5 L477.8 241.0 L476.5 243.4 Z M476.5 243.4 L477.5 246.9 L480.5 249.5 L483.1 248.5 M475.7 236.2 L482.6 232.5"/>
<path class="l" d="M477.3 240.5 L483.7 233.0 M491.7 240.2 L523.7 261.8 M484.7 248.5 L487.9 247.7 L520.0 270.4"/>
<path class="k" d="M481.5 246.9 C481.5 246.1 481.0 243.5 481.3 242.1 C481.5 240.7 482.1 239.4 483.1 238.3 C484.2 237.3 486.7 236.1 487.4 235.7 M486.3 231.9 C486.8 231.9 488.1 231.5 489.0 231.9 C489.9 232.4 491.2 233.7 491.7 234.6 C492.1 235.5 491.7 236.8 491.7 237.3 M483.1 248.5 C483.2 247.6 483.2 244.5 483.7 243.1 C484.1 241.8 485.5 240.9 485.8 240.5 M523.7 261.8 C524.1 262.4 525.8 264.3 525.8 265.6 C525.8 266.8 524.5 268.4 523.7 269.3 C522.9 270.1 521.7 270.4 521.0 270.6 C520.4 270.8 520.1 270.4 520.0 270.4"/>
<path class="l" stroke-dasharray="1.5 1" d="M523.2 262.4 C522.5 263.2 519.9 265.8 519.4 267.2 C519.0 268.5 520.3 269.8 520.5 270.4 M484.2 239.4 L487.4 237.8 M485.3 242.6 L487.9 240.5"/>
</g>
</g>
<!-- 23_170_180.svg -->
<g id="bolt170" style="stroke-width:1.3px">
<path class="w" style="stroke:none" d="M490.1 421.1 L492.0 415.4 L495.2 411.5 L499.7 409.9 L504.2 410.9 L510.6 415.1 L512.5 421.8 L551.6 444.2 L553.9 447.4 L552.3 451.9 L548.4 452.9 L546.5 452.5 L507.4 429.1 L504.2 431.4 L499.7 432.0 L495.2 428.8 L491.4 425.6 Z"/>
<path class="l" d="M490.1 421.1 C490.4 420.2 491.2 417.0 492.0 415.4 C492.9 413.8 494.0 412.4 495.2 411.5 C496.5 410.6 498.2 410.0 499.7 409.9 C501.2 409.8 502.4 410.0 504.2 410.9 C506.0 411.7 509.2 413.8 510.6 415.1 C512.0 416.3 512.2 417.5 512.5 418.6 C512.9 419.7 512.5 421.2 512.5 421.8 M490.1 421.1 C490.3 421.9 490.6 424.3 491.4 425.6 C492.3 426.9 493.9 427.8 495.2 428.8 C496.6 429.9 498.2 431.6 499.7 432.0 C501.2 432.5 502.9 431.8 504.2 431.4 C505.5 431.0 506.9 429.8 507.4 429.5 M500.4 415.7 C500.2 416.4 499.9 418.5 499.1 419.9 C498.2 421.2 495.9 423.3 495.2 424.0 M512.5 421.8 C511.6 421.2 508.3 418.8 506.8 418.3 C505.3 417.7 504.5 418.2 503.6 418.6 C502.6 419.0 501.5 419.6 501.0 420.5 C500.5 421.4 500.2 422.7 500.4 423.7 C500.6 424.7 501.1 425.4 502.3 426.3 C503.5 427.1 506.6 428.4 507.4 428.8 M533.7 434.6 C533.0 435.1 530.6 436.6 529.8 437.8 C529.1 439.0 529.3 441.0 529.2 441.6 M538.2 437.2 C537.4 437.7 534.5 439.2 533.7 440.4 C532.8 441.5 533.2 443.6 533.0 444.2 M542.0 439.7 C541.5 440.1 539.5 441.2 538.8 442.3 C538.2 443.4 538.3 445.8 538.2 446.4 M545.9 441.6 C545.3 442.2 543.2 443.6 542.7 444.8 C542.1 446.1 542.4 448.6 542.3 449.3 M550.3 444.2 C549.8 444.7 547.8 446.1 547.1 447.4 C546.5 448.7 546.6 451.1 546.5 451.9 M551.6 444.2 C552.0 444.7 553.8 446.1 553.9 447.4 C554.0 448.7 553.2 451.0 552.3 451.9 C551.4 452.8 549.4 452.9 548.4 452.9 C547.5 452.9 546.8 452.0 546.5 451.9"/>
<path class="l" d="M495.2 412.8 L500.4 415.7 L509.3 414.4 M490.1 421.1 L495.2 424.0 L498.8 430.7 M506.8 418.3 L551.6 444.2 M507.4 429.1 L546.5 452.5"/>
</g>
<g id="sensor180">
<path class="l" style="stroke-width:0.9px" d="M407.4 507.8 L472.6 489.7 M408.6 509.6 L437.6 501.2 L454.5 496.6 L472.6 490.9"/>
<path class="w" d="M479.2 483.1 L514.8 473.4 L520.8 471.6 L526.3 474.7 L527.5 480.7 L524.4 485.5 L518.4 487.3 L482.8 494.6 Z"/>
<path class="w" d="M472.6 484.3 C473.3 483.1 474.8 482.5 476.2 482.5 C477.6 482.5 479.9 483.0 481.0 484.3 C482.1 485.6 482.8 488.5 482.8 490.3 C482.8 492.1 482.0 494.1 481.0 495.2 C480.0 496.3 478.0 497.1 476.8 497.0 C475.6 496.9 474.6 495.8 473.8 494.6 C473.0 493.4 472.2 491.4 472.0 489.7 C471.8 488.0 471.9 485.5 472.6 484.3 Z"/>
<path class="l" d="M472.6 489.7 L479.2 490.3 M503.9 481.3 L505.7 478.9 L507.6 481.3 L506.3 483.7 Z M514.8 473.4 L516.6 479.5 L518.4 487.3"/>
<path class="k" style="stroke-width:2.2" d="M519.0 474.0 L520.8 479.5 L520.2 485.5 M522.0 473.4 L524.4 478.3 L523.2 484.9 M516.6 474.7 L525.7 476.5 M517.8 484.3 L525.1 483.1 M506.3 474.0 L508.8 475.9 M505.7 489.7 L508.2 489.1"/>
<path class="w" d="M382.1 503.0 L391.1 501.2 L394.1 504.8 L393.5 518.1 L383.3 512.7 Z"/>
<path class="w" d="M379.0 495.2 C379.6 494.6 379.8 493.4 381.5 494.0 C383.2 494.6 387.6 497.6 389.3 498.8 C391.0 500.0 391.9 500.4 391.7 501.2 C391.5 502.0 389.9 503.8 388.1 503.6 C386.3 503.4 382.5 501.0 380.9 500.0 C379.3 499.0 378.7 498.4 378.4 497.6 C378.1 496.8 378.5 495.8 379.0 495.2 Z"/>
<path class="l" d="M382.1 503.0 L383.3 512.7 M391.1 501.2 L391.1 504.8 M394.1 504.8 L406.2 506.6 L407.4 510.2 L401.4 514.5 L393.5 518.1"/>
<path class="k" style="stroke-width:2.2" d="M395.3 506.6 L405.0 508.4 M395.9 509.6 L403.8 511.5 M395.3 513.3 L401.4 513.9 M397.8 506.0 L399.6 514.5 M389.3 501.2 L395.3 503.6 M390.5 503.6 L394.1 506.6"/>
</g>
<!-- 24_260_210.svg -->
<g id="bolt260">
<path class="w" style="stroke:none" d="M371.1 601.4 L367.7 601.4 L364.7 605.9 L364.0 612.6 L371.1 616.3 L371.8 625.3 L376.7 630.5 L383.4 632.0 L387.9 629.8 L394.6 630.5 L402.1 621.5 L401.7 614.1 L398.0 608.8 L396.1 603.6 L390.1 600.6 L382.6 600.6 L377.4 604.4 Z"/>
<path class="k" d="M377.4 604.4 C376.4 603.9 372.7 601.9 371.1 601.4 C369.4 600.9 368.8 600.6 367.7 601.4 C366.6 602.1 365.3 604.0 364.7 605.9 C364.1 607.7 362.9 610.8 364.0 612.6 C365.0 614.3 369.9 615.7 371.1 616.3 M371.1 616.3 C371.2 617.8 370.9 622.9 371.8 625.3 C372.7 627.6 374.7 629.4 376.7 630.5 C378.6 631.6 381.5 632.1 383.4 632.0 C385.3 631.9 387.1 630.1 387.9 629.8 M377.4 604.4 C378.3 603.7 380.5 601.3 382.6 600.6 C384.8 600.0 387.9 600.1 390.1 600.6 C392.4 601.1 394.8 602.2 396.1 603.6 C397.4 605.0 397.6 608.0 398.0 608.8 M378.9 622.3 C378.9 621.0 378.2 617.1 378.9 614.8 C379.7 612.6 381.8 610.2 383.4 608.8 C385.0 607.5 386.9 606.6 388.6 606.6 C390.4 606.6 393.0 608.5 393.8 608.8 M379.7 623.8 C380.3 624.3 382.1 626.0 383.4 626.8 C384.6 627.5 386.5 628.0 387.1 628.3"/>
<path class="l" d="M373.3 623.8 C373.4 622.0 372.7 616.6 373.7 613.3 C374.6 610.1 377.2 606.4 378.9 604.4 C380.6 602.4 383.3 601.9 384.1 601.4"/>
<path class="k" d="M387.9 629.8 C387.2 629.3 387.0 626.7 387.1 625.3 C387.2 623.9 388.5 622.7 388.6 621.5 C388.7 620.4 387.7 619.3 387.9 618.6 C388.0 617.8 388.5 617.7 389.4 617.1 C390.2 616.4 392.4 615.7 393.1 614.8 C393.8 614.0 393.2 612.3 393.8 611.8 C394.5 611.3 395.8 611.6 396.8 611.8 C397.8 612.1 399.0 613.0 399.8 613.3 C400.6 613.7 401.6 613.3 401.7 614.1 C401.8 614.8 400.5 616.6 400.6 617.8 C400.6 619.1 402.2 620.4 402.1 621.5 C401.9 622.7 400.8 623.7 399.8 624.5 C398.8 625.4 397.0 625.8 396.1 626.8 C395.2 627.8 395.5 630.3 394.6 630.5 C393.7 630.8 392.0 628.4 390.9 628.3 C389.7 628.1 388.5 630.3 387.9 629.8 Z"/>
<path class="l" d="M384.1 614.8 L387.1 615.6 L388.6 610.3 M384.9 621.5 L381.9 617.8 L382.6 614.1 M380.4 623.8 L381.1 617.8 M387.1 615.6 L390.1 613.3"/>
<path class="k" style="stroke-width:2" d="M380.0 622.3 C380.0 621.3 379.5 618.2 380.0 616.3 C380.5 614.4 382.5 612.0 383.0 611.1 M381.1 625.3 L384.9 627.5"/>
</g>
<g id="bolt210">
<path class="w" d="M610.2 734.4 C609.2 734.3 605.9 733.5 604.2 734.0 C602.4 734.5 600.7 735.8 599.7 737.3 C598.7 738.9 598.2 741.6 598.2 743.3 C598.2 745.1 598.7 746.6 599.7 747.8 C600.7 749.0 603.4 750.0 604.2 750.4"/>
<path class="k" stroke-dasharray="5 1.2" style="fill:#fff" d="M604.2 750.8 C603.9 753.0 604.1 755.1 604.9 756.8 C605.8 758.4 607.7 759.7 609.4 760.5 C611.2 761.3 613.4 761.9 615.4 761.6 C617.4 761.4 619.5 760.3 621.4 759.0 C623.2 757.7 625.3 755.6 626.6 753.8 C627.8 751.9 628.6 750.0 628.8 747.8 C629.1 745.6 629.0 742.3 628.1 740.3 C627.2 738.3 625.3 736.7 623.6 735.8 C621.9 735.0 619.6 734.9 617.6 735.1 C615.6 735.3 613.5 736.0 611.7 737.3 C609.8 738.7 607.7 741.1 606.4 743.3 C605.2 745.6 604.4 748.5 604.2 750.8 Z"/>
<path class="k" stroke-dasharray="1 0.8" style="stroke-width:2.6;stroke-linecap:butt" d="M606.1 745.6 C606.5 744.8 607.4 742.5 608.7 741.1 C610.0 739.6 613.0 737.7 613.9 737.0"/>
<path class="l" d="M613.2 747.8 L615.4 744.1 L618.4 743.3 L621.4 745.6 L621.7 750.0 L618.4 754.1 L615.4 753.0 Z M614.6 746.7 L621.0 749.7"/>
</g>
<!-- 30_caliper.svg -->
<g id="caliper10">
<path class="l" d="M868.3 460.4 C867.7 463.4 865.7 472.6 864.6 478.0 C863.4 483.5 861.6 489.6 861.4 493.0 C861.1 496.4 861.8 496.9 863.0 498.3 C864.1 499.7 866.2 501.3 868.3 501.5 C870.3 501.7 873.2 500.6 875.2 499.4 C877.3 498.1 879.2 496.7 880.6 494.1 C881.9 491.4 883.1 486.0 883.2 483.4 C883.3 480.7 881.5 478.9 881.1 478.0 M871.5 494.1 C871.6 493.0 871.2 489.3 872.0 487.6 C872.8 486.0 874.8 484.4 876.3 483.9 C877.8 483.4 880.3 484.4 881.1 484.4 M873.1 495.1 C873.2 494.1 873.9 491.7 874.7 490.9 C875.5 490.0 877.5 489.3 877.9 489.8 C878.3 490.3 878.0 492.9 877.4 494.1 C876.7 495.2 874.9 496.5 874.2 496.7 C873.5 496.9 873.0 496.1 873.1 495.1 Z"/>
<path class="l" d="M872.0 462.0 L867.2 498.3 M874.2 464.2 L868.8 494.1 M868.3 460.4 L885.9 468.4 M882.7 478.0 L897.6 486.6 M885.9 468.4 L894.4 481.2 L900.9 470.6 M910.5 464.2 L900.9 485.5 M877.4 475.9 L881.6 475.4 L882.7 478.0 L879.5 479.6 Z M842.1 430.0 L843.2 439.6 L847.5 444.9 L854.4 449.8"/>
<path class="k" d="M881.6 477.0 L928.6 504.9 M882.2 478.6 L899.8 488.7"/>
<path class="l" style="stroke-width:1.5" d="M871.8 388.0 C870.3 388.8 865.9 390.8 862.7 392.9 C859.6 394.9 855.8 397.4 853.0 400.5 C850.3 403.6 847.8 407.7 846.1 411.6 C844.4 415.5 843.1 420.1 842.6 424.1 C842.1 428.0 842.4 431.9 843.0 435.2 C843.7 438.4 844.9 441.0 846.8 443.5 C848.7 446.0 853.2 449.3 854.4 450.4 M888.4 398.4 C889.7 395.1 893.6 384.9 896.0 378.3 C898.5 371.7 901.1 362.9 903.0 358.9 C904.8 354.8 905.3 354.9 907.1 354.0 C909.0 353.1 912.0 353.0 914.1 353.6 C916.2 354.2 918.6 356.1 919.6 357.5 C920.7 358.8 920.8 359.1 920.3 361.6 C919.9 364.2 917.2 370.1 916.9 372.7 C916.5 375.4 917.4 376.6 918.2 377.6 C919.1 378.6 921.1 378.8 921.7 379.0 M891.9 400.5 C893.3 397.0 897.7 385.9 900.2 379.7 C902.7 373.4 905.4 366.5 907.1 363.0 C908.9 359.6 910.0 359.6 910.6 358.9 M849.6 410.2 C850.0 408.1 851.4 405.8 853.0 404.7 C854.7 403.5 857.7 402.8 859.3 403.3 C860.9 403.7 862.1 405.6 862.7 407.4 C863.4 409.3 863.9 412.3 863.4 414.4 C863.0 416.4 861.5 418.9 860.0 419.9 C858.5 421.0 856.0 421.1 854.4 420.6 C852.8 420.1 851.1 418.9 850.3 417.1 C849.5 415.4 849.1 412.3 849.6 410.2 Z M855.8 420.6 C856.5 421.2 858.1 424.2 860.0 424.1 C861.8 424.0 864.8 422.5 866.9 419.9 C869.0 417.4 871.0 412.1 872.5 408.8 C874.0 405.6 875.3 401.9 875.9 400.5 M860.0 401.9 C860.8 401.1 863.0 398.2 864.8 397.0 C866.7 395.9 869.3 394.9 871.1 394.9 C872.8 394.9 874.5 396.7 875.2 397.0 M872.5 388.0 C872.1 386.7 872.5 385.7 873.2 384.5 C873.8 383.4 875.6 382.7 876.6 381.1 C877.7 379.5 878.4 376.2 879.4 374.8 C880.4 373.4 881.5 372.7 882.9 372.7 C884.3 372.7 887.0 373.7 887.7 374.8 C888.4 376.0 886.8 378.2 887.0 379.7 C887.3 381.2 888.5 382.5 889.1 383.8 C889.7 385.2 891.0 386.4 890.5 388.0 C890.0 389.6 888.0 392.6 886.3 393.6 C884.7 394.5 882.6 393.8 880.8 393.6 C878.9 393.3 876.6 393.1 875.2 392.2 C873.8 391.2 872.8 389.3 872.5 388.0 Z M874.5 386.6 C875.3 387.1 877.4 389.2 879.4 389.4 C881.4 389.6 884.6 388.7 886.3 388.0 C888.1 387.3 889.2 385.7 889.8 385.2 M876.6 381.8 C877.4 382.1 879.7 383.9 881.5 383.8 C883.2 383.8 886.1 381.8 887.0 381.3"/>
<path class="l" d="M855.8 442.8 L859.3 442.1 L869.0 448.4 L869.7 454.6 L866.9 457.4 L863.4 456.7 L854.4 451.1 Z M859.3 442.1 L857.9 448.4 L866.9 454.6 M857.9 448.4 L854.4 451.1 M888.4 398.4 L884.9 400.5 L887.7 404.0 L893.3 406.0 L909.9 413.0 M907.1 376.2 L910.6 363.0 L912.7 359.6 L916.9 358.9 M894.7 401.9 L909.9 367.2 M884.9 400.5 L876.6 399.8 M887.7 404.0 L880.8 406.0 M916.9 372.7 L909.9 383.8 L921.0 392.9 M909.9 383.8 L906.4 386.6 L918.2 394.9 M868.3 410.2 L862.7 422.7 M871.1 411.6 L864.8 424.1"/>
<path class="k" d="M850.3 417.1 L854.4 420.6 L860.0 419.9 M879.4 376.2 L883.6 377.6 L887.0 376.2 M878.0 379.0 L882.9 380.4 L887.0 378.3 M852.3 407.4 L855.8 406.0 L859.3 408.1 L859.3 413.0 L855.8 415.1 L852.3 413.0 Z"/>
<path class="l" style="stroke-width:1.5" d="M915.0 381.1 C916.3 380.5 919.1 378.4 922.7 377.7 C926.3 377.0 931.5 375.8 936.4 376.8 C941.2 377.8 946.1 380.4 951.7 383.7 C957.4 386.9 964.3 391.8 970.5 396.5 C976.8 401.2 985.6 408.6 989.3 411.9 C993.0 415.1 992.3 414.6 992.7 416.1 C993.2 417.7 992.0 420.4 991.9 421.2 M991.9 421.2 C991.5 424.7 990.9 433.2 989.3 441.7 C987.8 450.3 985.3 462.8 982.5 472.5 C979.6 482.2 975.7 491.9 972.2 499.8 C968.8 507.8 964.4 516.5 962.0 520.3 C959.6 524.2 959.1 522.7 957.7 522.9 C956.3 523.0 954.2 521.5 953.5 521.2 M948.3 443.5 C948.0 444.6 946.1 448.6 946.6 450.3 C947.2 452.0 949.5 452.8 951.7 453.7 C954.0 454.6 957.7 454.8 960.3 455.4 C962.8 456.0 966.8 455.4 967.1 457.1 C967.4 458.8 963.7 462.5 962.0 465.7 C960.3 468.8 958.0 473.1 956.9 475.9 C955.7 478.8 955.4 481.6 955.2 482.7 M974.8 460.5 C973.8 462.5 970.7 468.2 968.8 472.5 C967.0 476.8 966.3 483.3 963.7 486.2 C961.1 489.0 956.9 489.3 953.5 489.6 C950.0 489.9 946.6 487.0 943.2 487.9 C939.8 488.7 935.5 491.9 933.0 494.7 C930.4 497.5 928.4 502.4 927.8 505.0 C927.3 507.5 928.1 508.9 929.5 510.1 C931.0 511.2 934.8 512.4 936.4 511.8 C937.9 511.2 937.8 509.2 938.9 506.7 C940.1 504.1 940.5 498.7 943.2 496.4 C945.9 494.1 951.5 494.1 955.2 493.0 C958.9 491.9 962.6 493.0 965.4 489.6 C968.3 486.2 970.0 477.6 972.2 472.5 C974.5 467.4 977.9 461.1 979.1 458.8"/>
<path class="l" d="M909.0 384.5 L915.0 381.1 M909.0 384.5 L982.5 424.7 L989.3 411.9 M912.5 382.0 L985.9 421.2 M982.5 424.7 L978.2 433.2 L951.7 441.7 L948.3 443.5 M978.2 433.2 L979.1 458.8 L974.8 460.5 M926.1 393.1 L967.1 417.8 L970.5 421.2 L969.7 426.4 L948.3 438.3 L929.5 426.4 L926.1 412.7 L926.1 393.1 M967.1 417.8 L965.4 424.7 L948.3 436.6 M905.6 386.2 L921.0 394.8 L926.1 393.1 M921.0 394.8 L921.9 412.7 M911.6 411.9 L921.0 395.6 M936.4 511.8 L953.5 521.2 M938.9 515.2 L955.2 523.7 M922.7 455.4 L955.2 472.5 M921.0 458.8 L951.7 475.9 M924.4 450.3 L948.3 462.2 M948.3 441.7 L960.3 440.9 L960.3 445.2 L953.5 450.3 L948.3 448.6 M924.4 444.3 L933.0 444.3 L948.3 452.0 M890.2 472.5 L897.1 487.9 M902.2 470.8 L900.5 482.7 M914.2 465.7 L902.2 484.5 M953.5 521.2 L955.2 518.6 L960.3 520.3 M982.5 424.7 L991.9 421.2 M929.5 426.4 L931.2 421.2 L926.1 412.7"/>
<path class="k" d="M927.0 393.9 L966.3 417.8 M930.4 427.2 L948.3 438.3 M922.7 456.3 L954.3 472.8 M951.7 445.2 L955.2 448.6 L957.7 444.3"/>
<ellipse class="l" cx="914.5" cy="365.8" rx="2" ry="3.2" transform="rotate(20 914.5 365.8)"/>
<ellipse class="w" cx="905.6" cy="441.4" rx="23.0" ry="30.5" transform="rotate(28 905.6 441.4)"/>
<ellipse class="l" cx="905.6" cy="441.4" rx="21.2" ry="28.6" transform="rotate(28 905.6 441.4)"/>
<ellipse class="l" cx="905.6" cy="441.4" rx="19.0" ry="26.5" transform="rotate(28 905.6 441.4)"/>
<ellipse class="k" cx="905.6" cy="441.4" rx="17.2" ry="24.5" transform="rotate(28 905.6 441.4)"/>
<ellipse class="l" cx="905.6" cy="441.4" rx="15.5" ry="22.8" transform="rotate(28 905.6 441.4)"/>
<ellipse class="w" cx="905.6" cy="441.4" rx="12.5" ry="19.5" transform="rotate(28 905.6 441.4)"/>
</g>
<!-- 31_pins.svg -->
<g id="pins40">
<g transform="translate(0.0 0.0)">
<path class="w" d="M806 316 L813 303 L826 301 L856 325 L858 335 L848 340 L838 336 L816 326 Z" style="stroke:none"/>
<path class="l" d="M806.2 315.6 C806.4 314.6 806.5 311.0 807.2 309.2 C807.9 307.4 809.2 305.9 810.4 304.7 C811.5 303.6 812.3 302.7 814.2 302.2 C816.1 301.7 820.1 301.6 821.9 301.9 C823.7 302.1 824.6 303.2 825.1 303.5 M806.2 315.6 C806.4 316.2 806.6 317.8 807.2 318.8 C807.8 319.9 808.3 320.9 809.7 322.0 C811.1 323.2 814.5 325.2 815.5 325.9 M816.1 324.6 C816.2 323.4 816.0 319.9 816.8 317.5 C817.5 315.2 819.2 312.2 820.6 310.5 C822.0 308.8 823.6 307.7 825.1 307.3 C826.6 306.9 828.8 307.8 829.6 307.9 M829.6 331.0 C829.5 330.1 828.7 328.0 829.3 325.9 C829.8 323.7 831.5 320.1 832.8 318.2 C834.1 316.3 835.9 315.1 837.3 314.3 C838.7 313.5 840.5 313.5 841.1 313.4 M841.1 313.4 C842.0 313.8 845.1 314.8 846.2 315.6 C847.4 316.4 847.2 317.8 848.2 318.2 C849.1 318.6 851.1 317.9 852.0 318.2 C853.0 318.5 853.5 319.3 853.9 320.1 C854.4 321.0 854.5 322.8 854.6 323.3 M829.6 331.0 C830.1 331.5 831.3 333.5 832.8 334.2 C834.3 334.9 837.4 334.8 838.6 335.5 C839.7 336.1 839.0 337.4 839.8 338.0 C840.7 338.7 842.6 339.6 843.7 339.6 C844.8 339.6 845.8 338.3 846.2 338.0 M846.2 338.0 C846.0 337.4 845.0 335.6 845.0 334.2 C845.0 332.8 845.5 331.1 846.2 329.7 C847.0 328.3 848.2 326.9 849.5 325.9 C850.7 324.8 853.2 323.7 853.9 323.3"/>
<path class="l" d="M825.1 303.5 L829.6 306.7 L837.3 313.7 M818.1 325.2 L829.6 331.0 M808.1 307.9 L811.0 310.5 M837.3 329.1 L838.6 335.5 M842.4 320.1 L846.2 318.2 M843.7 322.0 L847.2 319.5 M806.5 317.5 L808.8 318.5"/>
<path class="k" d="M810.4 320.7 C810.3 319.9 809.7 317.4 810.1 315.6 C810.4 313.8 811.3 311.6 812.3 309.9 C813.3 308.2 814.5 306.5 816.1 305.4 C817.7 304.2 820.9 303.2 821.9 302.8 M812.3 322.0 C812.2 321.2 811.7 318.7 812.0 316.9 C812.3 315.1 813.2 312.8 814.2 311.1 C815.2 309.4 816.6 307.8 818.1 306.7 C819.6 305.5 822.3 304.5 823.2 304.1 M814.2 323.3 C814.2 322.5 813.6 320.0 813.9 318.2 C814.2 316.4 815.1 314.1 816.1 312.4 C817.2 310.7 819.3 308.7 820.0 307.9 M811.3 321.4 C811.3 320.5 810.7 318.1 811.0 316.3 C811.3 314.5 812.2 312.2 813.3 310.5 C814.3 308.8 816.5 306.8 817.1 306.0 M813.3 322.7 C813.2 321.8 812.6 319.4 812.9 317.5 C813.3 315.7 814.2 313.5 815.2 311.8 C816.2 310.1 818.4 308.0 819.0 307.3 M816.1 324.6 C816.2 323.4 816.0 319.9 816.8 317.5 C817.5 315.2 819.2 312.2 820.6 310.5 C822.0 308.8 824.4 307.8 825.1 307.3 M832.2 320.1 L837.9 315.0 M830.9 323.3 C831.3 323.1 832.5 323.2 833.4 322.0 C834.4 320.9 836.1 317.2 836.6 316.3"/>
<ellipse class="k" cx="852.3" cy="331.6" rx="5" ry="8" stroke-dasharray="3 1.2" transform="rotate(30 852.3 331.6)"/>
<ellipse class="k" cx="852.3" cy="331.6" rx="2.8" ry="5" stroke-dasharray="2 1" transform="rotate(30 852.3 331.6)"/>
</g>
<g transform="translate(-22.4 139.5)">
<path class="w" d="M806 316 L813 303 L826 301 L856 325 L858 335 L848 340 L838 336 L816 326 Z" style="stroke:none"/>
<path class="l" d="M806.2 315.6 C806.4 314.6 806.5 311.0 807.2 309.2 C807.9 307.4 809.2 305.9 810.4 304.7 C811.5 303.6 812.3 302.7 814.2 302.2 C816.1 301.7 820.1 301.6 821.9 301.9 C823.7 302.1 824.6 303.2 825.1 303.5 M806.2 315.6 C806.4 316.2 806.6 317.8 807.2 318.8 C807.8 319.9 808.3 320.9 809.7 322.0 C811.1 323.2 814.5 325.2 815.5 325.9 M816.1 324.6 C816.2 323.4 816.0 319.9 816.8 317.5 C817.5 315.2 819.2 312.2 820.6 310.5 C822.0 308.8 823.6 307.7 825.1 307.3 C826.6 306.9 828.8 307.8 829.6 307.9 M829.6 331.0 C829.5 330.1 828.7 328.0 829.3 325.9 C829.8 323.7 831.5 320.1 832.8 318.2 C834.1 316.3 835.9 315.1 837.3 314.3 C838.7 313.5 840.5 313.5 841.1 313.4 M841.1 313.4 C842.0 313.8 845.1 314.8 846.2 315.6 C847.4 316.4 847.2 317.8 848.2 318.2 C849.1 318.6 851.1 317.9 852.0 318.2 C853.0 318.5 853.5 319.3 853.9 320.1 C854.4 321.0 854.5 322.8 854.6 323.3 M829.6 331.0 C830.1 331.5 831.3 333.5 832.8 334.2 C834.3 334.9 837.4 334.8 838.6 335.5 C839.7 336.1 839.0 337.4 839.8 338.0 C840.7 338.7 842.6 339.6 843.7 339.6 C844.8 339.6 845.8 338.3 846.2 338.0 M846.2 338.0 C846.0 337.4 845.0 335.6 845.0 334.2 C845.0 332.8 845.5 331.1 846.2 329.7 C847.0 328.3 848.2 326.9 849.5 325.9 C850.7 324.8 853.2 323.7 853.9 323.3"/>
<path class="l" d="M825.1 303.5 L829.6 306.7 L837.3 313.7 M818.1 325.2 L829.6 331.0 M808.1 307.9 L811.0 310.5 M837.3 329.1 L838.6 335.5 M842.4 320.1 L846.2 318.2 M843.7 322.0 L847.2 319.5 M806.5 317.5 L808.8 318.5"/>
<path class="k" d="M810.4 320.7 C810.3 319.9 809.7 317.4 810.1 315.6 C810.4 313.8 811.3 311.6 812.3 309.9 C813.3 308.2 814.5 306.5 816.1 305.4 C817.7 304.2 820.9 303.2 821.9 302.8 M812.3 322.0 C812.2 321.2 811.7 318.7 812.0 316.9 C812.3 315.1 813.2 312.8 814.2 311.1 C815.2 309.4 816.6 307.8 818.1 306.7 C819.6 305.5 822.3 304.5 823.2 304.1 M814.2 323.3 C814.2 322.5 813.6 320.0 813.9 318.2 C814.2 316.4 815.1 314.1 816.1 312.4 C817.2 310.7 819.3 308.7 820.0 307.9 M811.3 321.4 C811.3 320.5 810.7 318.1 811.0 316.3 C811.3 314.5 812.2 312.2 813.3 310.5 C814.3 308.8 816.5 306.8 817.1 306.0 M813.3 322.7 C813.2 321.8 812.6 319.4 812.9 317.5 C813.3 315.7 814.2 313.5 815.2 311.8 C816.2 310.1 818.4 308.0 819.0 307.3 M816.1 324.6 C816.2 323.4 816.0 319.9 816.8 317.5 C817.5 315.2 819.2 312.2 820.6 310.5 C822.0 308.8 824.4 307.8 825.1 307.3 M832.2 320.1 L837.9 315.0 M830.9 323.3 C831.3 323.1 832.5 323.2 833.4 322.0 C834.4 320.9 836.1 317.2 836.6 316.3"/>
<ellipse class="k" cx="852.3" cy="331.6" rx="5" ry="8" stroke-dasharray="3 1.2" transform="rotate(30 852.3 331.6)"/>
<ellipse class="k" cx="852.3" cy="331.6" rx="2.8" ry="5" stroke-dasharray="2 1" transform="rotate(30 852.3 331.6)"/>
</g>
</g>
<!-- 32_small1.svg -->
<g id="bleeder20cap30">
<path class="w" d="M899.8 311.7 L901.7 306.4 L908.4 303.0 L914.2 299.2 L920.0 304.0 L920.0 317.4 L915.1 322.2 L906.5 336.7 L898.8 339.5 L895.0 331.8 Z" style="stroke:none"/>
<path class="l" d="M920.0 280.9 C920.4 279.8 921.2 275.7 922.4 274.2 C923.5 272.7 925.2 272.0 926.7 271.8 C928.2 271.7 930.1 272.2 931.5 273.3 C932.8 274.3 934.7 275.8 934.8 278.1 C935.0 280.3 932.8 285.3 932.4 286.7 M921.4 277.6 C922.3 277.8 924.7 278.2 926.7 279.0 C928.7 279.8 932.3 281.8 933.4 282.4 M922.8 275.7 C923.6 275.8 925.7 276.0 927.6 276.6 C929.5 277.3 933.1 279.0 934.2 279.5 M908.4 303.0 C908.4 301.9 909.4 300.8 910.3 300.1 C911.3 299.5 912.9 299.1 914.2 299.2 C915.5 299.3 917.1 299.8 918.0 300.6 C919.0 301.4 919.7 302.9 920.0 304.0 C920.2 305.1 920.3 306.6 919.5 307.4 C918.7 308.1 916.7 308.4 915.1 308.3 C913.6 308.2 911.5 307.8 910.3 306.9 C909.2 306.0 908.4 304.2 908.4 303.0 Z M900.7 317.4 C899.9 318.9 896.4 323.7 895.5 326.1 C894.5 328.5 894.8 330.1 895.0 331.8 C895.1 333.6 895.8 335.4 896.4 336.7 C897.1 337.9 897.6 339.2 898.8 339.5 C900.0 339.9 902.3 339.1 903.6 338.6 C904.9 338.1 906.0 337.0 906.5 336.7"/>
<path class="l" d="M915.1 282.4 L917.1 279.5 L920.0 280.9 L932.4 287.2 L932.4 289.6 L924.8 290.5 L918.0 286.7 Z M918.0 286.7 L920.0 283.8 L927.6 288.1 L924.8 290.5 M899.8 311.7 L901.7 306.4 L908.4 306.9 L919.0 312.6 L920.0 317.4 L917.6 322.2 L910.3 321.3 L900.7 317.4 Z M901.7 312.6 L910.3 316.5 L918.0 317.4 M910.3 316.5 L910.3 321.3 M906.5 336.7 L915.1 322.2 M897.9 320.3 L907.5 324.6 L914.2 322.7 M896.4 324.2 L905.5 328.5 M895.2 329.0 L903.1 332.8 M896.9 335.7 L901.7 336.7 M908.4 308.3 L907.5 310.7 M918.0 308.8 L917.6 311.7"/>
<path class="k" d="M909.4 303.0 C910.2 303.4 912.6 305.0 914.2 305.0 C915.8 305.0 918.2 303.4 919.0 303.0 M910.3 301.1 L915.1 302.6 M908.4 307.4 C909.1 307.8 910.8 309.3 912.3 309.8 C913.7 310.2 916.3 310.2 917.1 310.2 M904.6 309.8 C905.5 310.2 908.4 312.1 910.3 312.6 C912.3 313.2 915.1 313.0 916.1 313.1 M915.6 282.9 C917.0 283.7 921.2 287.1 923.8 288.1 C926.4 289.2 930.2 288.9 931.5 289.1 M906.5 310.7 C907.3 311.2 909.5 313.1 911.3 313.6 C913.1 314.1 916.1 313.6 917.1 313.6"/>
</g>
<!-- 33_right.svg -->
<g id="clip110" style="stroke-width:1.05px">
<path class="l" d="M1016.5 178.2 L1031.4 185.4 L1031.9 188.3 L1027.1 192.2 L1025.6 195.0 L1028.0 197.9 L1029.0 199.8 L1025.6 208.0 M1016.5 178.2 L1011.2 184.5 L1010.8 187.4 L1018.4 193.6 L1025.6 197.4 M1018.4 193.6 L1013.6 198.9 L1013.6 202.7 L1020.4 207.5 L1033.8 214.2 M1008.4 203.2 L1020.4 208.9 L1020.8 217.1 L1014.6 219.0 L1008.8 211.3 Z M1008.4 203.2 L1013.6 211.3 L1020.4 209.9 M1013.6 211.3 L1014.6 219.0 M1020.4 207.5 L1032.8 209.4 L1035.7 213.3 L1034.8 217.1 L1029.0 219.0 M1028.0 220.0 L1044.8 224.3 L1045.3 232.0 L1033.8 229.1 L1028.5 227.2 Z M1034.8 217.1 L1044.8 222.9 L1044.8 224.3 M1020.8 218.1 L1021.8 220.9 L1013.6 226.7 L1013.2 228.6 L1017.5 237.3 L1011.7 241.1 L1010.8 244.0 L1024.2 252.1 L1031.4 257.4 L1031.9 254.5 L1025.6 251.2 L1028.0 243.0 L1027.6 235.3 L1030.0 232.0 L1033.8 229.1 M1014.6 227.2 L1027.6 233.4 M1017.5 237.3 L1028.0 242.1 M1024.2 252.1 L1025.6 251.2"/>
<path class="k" style="stroke-width:2.4" d="M1021.3 208.0 L1033.8 216.1 M1044.5 224.6 L1045.0 231.7"/>
</g>
<g id="pins115" style="stroke-width:1.05px">
<g transform="translate(0 0.0)">
<path class="w" d="M1053.8 186.2 L1055.5 182.3 L1059.8 182.3 L1073.8 187.1 L1074.8 191.4 L1070.9 197.3 L1067.5 198.2 L1056.4 191.4 Z"/>
<path class="l" d="M1059.8 182.3 L1058.1 187.1 L1056.4 191.4 M1068.3 185.7 L1065.8 191.4 L1067.5 198.2 M1073.8 190.5 L1113.6 214.4 M1070.0 196.5 L1110.2 219.9 M1113.6 214.4 L1117.9 216.1 L1122.7 221.6 L1117.9 223.0 L1111.0 221.2 L1110.2 219.9 M1113.6 214.4 L1111.9 217.8 L1113.6 221.2"/>
</g>
<g transform="translate(0 93.1)">
<path class="w" d="M1053.8 186.2 L1055.5 182.3 L1059.8 182.3 L1073.8 187.1 L1074.8 191.4 L1070.9 197.3 L1067.5 198.2 L1056.4 191.4 Z"/>
<path class="l" d="M1059.8 182.3 L1058.1 187.1 L1056.4 191.4 M1068.3 185.7 L1065.8 191.4 L1067.5 198.2 M1073.8 190.5 L1113.6 214.4 M1070.0 196.5 L1110.2 219.9 M1113.6 214.4 L1117.9 216.1 L1122.7 221.6 L1117.9 223.0 L1111.0 221.2 L1110.2 219.9 M1113.6 214.4 L1111.9 217.8 L1113.6 221.2"/>
</g>
</g>
<g id="sleeve120">
<path class="w" style="stroke:none" d="M1132.0 278.1 L1134.0 270.4 L1139.7 266.5 L1146.1 267.2 L1150.0 271.0 L1151.3 276.1 L1203.8 306.9 L1210.8 312.6 L1203.1 320.3 L1144.9 285.7 L1134.6 283.8 Z"/>
<path class="k" d="M1132.0 278.1 C1132.4 276.8 1132.7 272.3 1134.0 270.4 C1135.2 268.4 1137.7 267.1 1139.7 266.5 C1141.8 266.0 1144.4 266.4 1146.1 267.2 C1147.8 267.9 1149.7 269.8 1150.0 271.0 C1150.3 272.2 1147.8 273.4 1148.1 274.2 C1148.3 275.1 1150.7 275.8 1151.3 276.1 M1132.0 278.1 C1132.5 279.0 1133.4 282.4 1134.6 283.8 C1135.8 285.2 1137.4 286.1 1139.1 286.4 C1140.8 286.7 1143.9 285.8 1144.9 285.7 M1135.2 271.7 C1136.1 271.0 1138.6 268.4 1140.4 267.8 C1142.2 267.2 1145.2 267.8 1146.1 267.8 M1132.9 280.0 C1133.2 279.0 1133.9 275.7 1134.6 274.2 C1135.3 272.7 1136.7 271.5 1137.2 271.0"/>
<path class="l" d="M1151.3 276.1 L1163.4 284.5 L1187.8 299.2 L1203.8 306.9 M1144.9 285.7 L1157.0 292.8 L1182.6 307.5 L1199.3 317.1 M1157.0 288.9 L1157.7 292.8 M1182.6 303.7 L1183.3 307.5 M1141.7 280.6 L1142.9 283.2 M1163.4 283.8 L1164.1 285.7 M1187.8 298.3 L1188.4 299.8 M1139.1 286.4 L1137.8 280.6 L1140.4 278.1"/>
<path class="k" style="stroke-width:2.6" d="M1203.8 306.9 C1205.2 306.3 1207.7 307.2 1208.9 308.2 C1210.1 309.1 1210.9 311.0 1210.8 312.6 C1210.7 314.2 1209.5 316.5 1208.3 317.8 C1207.0 319.0 1204.6 320.4 1203.1 320.3 C1201.6 320.2 1199.7 318.6 1199.3 317.1 C1198.9 315.6 1199.8 313.1 1200.6 311.4 C1201.3 309.7 1202.4 307.4 1203.8 306.9 Z"/>
<path class="l" d="M1203.8 310.1 C1204.5 309.3 1206.3 310.6 1207.0 311.4 C1207.6 312.1 1207.9 313.6 1207.6 314.6 C1207.3 315.5 1205.9 316.9 1205.1 317.1 C1204.2 317.3 1202.7 317.0 1202.5 315.8 C1202.3 314.7 1203.0 310.8 1203.8 310.1 Z"/>
</g>
<g id="bolt125">
<path class="w" d="M1223.6 326.1 L1225.6 324.2 L1228.8 324.8 L1237.7 330.6 L1233.9 335.1 L1224.3 329.3 Z"/>
<path class="l" d="M1227.5 324.8 L1226.2 329.9 M1230.7 326.1 L1229.0 331.9 M1233.9 328.0 L1232.0 333.4"/>
<ellipse class="w" cx="1240.9" cy="337.0" rx="5.5" ry="8" transform="rotate(25 1240.9 337.0)"/>
<path class="w" d="M1239.0 338.3 C1239.1 336.4 1239.7 333.3 1240.9 331.9 C1242.1 330.4 1244.3 329.2 1246.0 329.3 C1247.8 329.4 1250.0 331.0 1251.2 332.5 C1252.3 334.0 1253.3 336.4 1253.1 338.3 C1252.9 340.1 1251.4 342.3 1249.9 343.4 C1248.4 344.4 1245.7 344.8 1244.1 344.7 C1242.5 344.6 1241.1 343.8 1240.3 342.7 C1239.4 341.7 1238.9 340.1 1239.0 338.3 Z"/>
<path class="l" d="M1240.9 332.5 L1245.4 335.1 L1251.2 333.1 M1245.4 335.1 L1243.5 344.0 M1239.0 338.3 L1242.8 340.2"/>
</g>
<g id="spring100" style="stroke-width:1.05px">
<path class="l" d="M1071.0 462.9 C1070.9 465.5 1071.2 474.1 1070.3 478.8 C1069.4 483.6 1067.4 486.9 1065.5 491.3 C1063.5 495.7 1060.8 500.1 1058.5 505.2 C1056.2 510.3 1054.1 516.5 1051.6 521.8 C1049.1 527.1 1045.8 533.1 1043.3 537.1 C1040.7 541.0 1038.7 542.9 1036.3 545.4 C1034.0 547.9 1030.6 551.2 1029.4 552.3 M1067.6 462.9 C1067.4 465.1 1067.6 472.5 1066.9 476.1 C1066.2 479.6 1065.1 481.1 1063.4 484.4 C1061.7 487.6 1057.6 493.6 1056.5 495.5 M1044.7 514.9 C1045.1 515.1 1047.7 514.9 1047.4 516.3 C1047.2 517.7 1044.4 520.7 1043.3 523.2 C1042.1 525.7 1042.1 528.5 1040.5 531.5 C1038.9 534.5 1035.9 538.5 1033.6 541.2 C1031.3 544.0 1027.8 547.0 1026.6 548.2"/>
<path class="l" d="M1056.5 495.5 L1040.5 492.7 L1037.0 495.5 L1032.9 505.2 L1034.3 509.3 L1044.7 514.9 M1041.2 496.9 L1053.0 501.0 L1050.2 510.7 L1037.0 506.6 M1047.4 502.4 L1045.4 509.3 M1041.9 498.9 L1051.6 502.4"/>
<path class="k" style="stroke-width:3" d="M1066.2 457.8 L1073.8 461.1 M1067.1 459.4 L1073.1 462.2 M1023.2 550.9 L1030.8 554.4 M1023.9 552.6 L1030.1 555.4 M1035.7 506.3 L1041.2 507.3 M1051.6 505.2 L1050.9 510.7"/>
</g>
<!-- 40_pads.svg -->
<g id="padkit130" style="stroke-width:1.1px">
<g transform="translate(0.0 0.0)">
<path class="w" d="M900.1 653.2 L901.0 647.2 L905.3 645.5 L908.7 646.3 L908.7 652.3 L917.2 660.9 L921.5 669.4 L923.2 689.9 L920.6 710.4 L915.5 727.5 L907.0 737.7 L900.1 742.8 L900.1 747.1 L895.0 748.8 L892.5 746.2 L892.5 742.0 L884.8 737.7 L883.1 727.5 L884.8 707.0 L886.5 684.8 L888.2 669.4 L893.3 659.2 Z"/>
<path class="l" d="M889.9 681.4 L900.1 684.8 L901.0 707.0 L896.7 730.9 L886.5 727.5 M889.9 681.4 L893.3 669.4 L901.8 674.5 L920.6 666.0 M901.8 674.5 L901.0 684.8 M896.7 730.9 L915.5 722.3 M886.5 727.5 L884.8 737.7 M901.0 647.2 L901.8 653.2 L908.7 652.3 M901.8 653.2 L900.1 654.0 M900.1 742.8 L896.7 744.5 L892.5 742.0 M896.7 744.5 L896.7 748.3 M887.3 681.4 L889.9 681.4 M883.9 727.5 L886.5 727.5"/>
<path class="k" stroke-dasharray="4 2" d="M888.5 670.3 L886.1 689.9 L884.3 727.5 M893.3 660.0 L889.0 669.7"/>
<path class="w" d="M977.8 680.5 L978.7 674.5 L983.0 672.8 L986.4 674.5 L986.4 680.5 L991.5 693.3 L993.2 707.0 L990.6 727.5 L987.2 744.5 L982.1 761.6 L977.0 768.4 L977.0 773.6 L973.6 775.3 L971.0 772.7 L971.5 768.4 L961.6 763.3 L954.8 756.5 L954.8 744.5 L957.3 720.6 L957.3 700.1 L961.6 693.3 Z"/>
<path class="l" d="M961.6 693.3 L966.7 696.7 L970.2 710.4 L971.0 734.3 L966.7 758.2 L961.6 763.3 M966.7 696.7 L983.8 679.6 M958.2 703.6 L968.4 707.0 M954.8 751.4 L965.9 759.9 M978.7 674.5 L979.5 680.5 L986.4 680.5 M979.5 680.5 L977.8 681.4 M993.2 707.0 L996.6 708.7 L995.8 713.8 L992.3 715.5 L996.6 718.1 L994.9 723.2 L991.5 722.3 M971.9 744.5 L976.1 741.1 L987.2 736.0 L989.8 730.9 M971.0 748.0 L973.6 744.5 M973.6 710.4 L976.1 709.5 L975.3 714.7 L972.7 713.8 Z M977.0 768.4 L973.9 770.2 L971.5 768.4 M973.9 770.2 L973.9 774.9"/>
<path class="k" stroke-dasharray="4 2" d="M970.2 698.4 L978.7 687.3 M969.3 710.4 L971.0 734.3 L966.7 759.9 M971.9 766.7 L961.6 762.5"/>
<path class="l" d="M925.8 646.3 L929.2 641.2 L934.3 640.4 L948.0 644.6 L948.0 648.9 L942.8 650.6 L937.7 654.0 L925.8 650.6 Z M929.2 641.2 L930.0 645.5 L944.5 649.8 M927.5 648.1 L937.7 651.5 M961.6 656.6 L966.7 651.5 L978.7 654.9 L984.7 658.3 L977.0 661.7 L971.9 665.1 L961.6 661.7 Z M966.7 651.5 L967.6 655.7 L978.7 659.2 M963.3 659.2 L971.9 662.6"/>
<path class="k" stroke-dasharray="2.5 1.5" style="stroke-width:2" d="M941.1 653.2 L966.7 660.0 M927.5 644.1 L944.5 648.1 M965.0 654.4 L978.7 657.8 M927.5 650.6 L936.0 653.2 M975.3 663.4 L983.8 660.0"/>
<path class="l" d="M903.6 758.2 L913.8 756.5 L915.5 753.1 L925.8 755.6 L924.0 761.6 L920.6 765.0 L934.3 770.2 L942.8 768.4 L944.5 764.2 L956.5 768.4 L955.6 773.6 L951.4 777.0 L942.8 778.7 L930.9 779.5 L903.6 768.4 Z M905.3 761.6 L920.6 766.7 M913.8 756.5 L912.9 761.6 M942.8 768.4 L942.8 773.6 M934.3 770.2 L932.6 775.3 M951.4 775.3 L953.1 777.8 L950.5 778.7"/>
<path class="k" stroke-dasharray="2.5 1.2" style="stroke-width:2.2" d="M914.7 754.4 L924.9 756.8 M913.8 759.1 L923.2 761.6 M943.7 765.4 L955.6 769.8 M942.8 770.2 L953.1 773.6 M904.4 769.3 L929.2 778.7 M907.0 764.2 L917.2 767.6 M934.3 772.7 L944.5 776.1"/>
</g>
<g transform="translate(149.0 39.8)">
<path class="w" d="M900.1 653.2 L901.0 647.2 L905.3 645.5 L908.7 646.3 L908.7 652.3 L917.2 660.9 L921.5 669.4 L923.2 689.9 L920.6 710.4 L915.5 727.5 L907.0 737.7 L900.1 742.8 L900.1 747.1 L895.0 748.8 L892.5 746.2 L892.5 742.0 L884.8 737.7 L883.1 727.5 L884.8 707.0 L886.5 684.8 L888.2 669.4 L893.3 659.2 Z"/>
<path class="l" d="M889.9 681.4 L900.1 684.8 L901.0 707.0 L896.7 730.9 L886.5 727.5 M889.9 681.4 L893.3 669.4 L901.8 674.5 L920.6 666.0 M901.8 674.5 L901.0 684.8 M896.7 730.9 L915.5 722.3 M886.5 727.5 L884.8 737.7 M901.0 647.2 L901.8 653.2 L908.7 652.3 M901.8 653.2 L900.1 654.0 M900.1 742.8 L896.7 744.5 L892.5 742.0 M896.7 744.5 L896.7 748.3 M887.3 681.4 L889.9 681.4 M883.9 727.5 L886.5 727.5"/>
<path class="k" stroke-dasharray="4 2" d="M888.5 670.3 L886.1 689.9 L884.3 727.5 M893.3 660.0 L889.0 669.7"/>
<path class="w" d="M977.8 680.5 L978.7 674.5 L983.0 672.8 L986.4 674.5 L986.4 680.5 L991.5 693.3 L993.2 707.0 L990.6 727.5 L987.2 744.5 L982.1 761.6 L977.0 768.4 L977.0 773.6 L973.6 775.3 L971.0 772.7 L971.5 768.4 L961.6 763.3 L954.8 756.5 L954.8 744.5 L957.3 720.6 L957.3 700.1 L961.6 693.3 Z"/>
<path class="l" d="M961.6 693.3 L966.7 696.7 L970.2 710.4 L971.0 734.3 L966.7 758.2 L961.6 763.3 M966.7 696.7 L983.8 679.6 M958.2 703.6 L968.4 707.0 M954.8 751.4 L965.9 759.9 M978.7 674.5 L979.5 680.5 L986.4 680.5 M979.5 680.5 L977.8 681.4 M993.2 707.0 L996.6 708.7 L995.8 713.8 L992.3 715.5 L996.6 718.1 L994.9 723.2 L991.5 722.3 M971.9 744.5 L976.1 741.1 L987.2 736.0 L989.8 730.9 M971.0 748.0 L973.6 744.5 M973.6 710.4 L976.1 709.5 L975.3 714.7 L972.7 713.8 Z M977.0 768.4 L973.9 770.2 L971.5 768.4 M973.9 770.2 L973.9 774.9"/>
<path class="k" stroke-dasharray="4 2" d="M970.2 698.4 L978.7 687.3 M969.3 710.4 L971.0 734.3 L966.7 759.9 M971.9 766.7 L961.6 762.5"/>
<path class="l" d="M925.8 646.3 L929.2 641.2 L934.3 640.4 L948.0 644.6 L948.0 648.9 L942.8 650.6 L937.7 654.0 L925.8 650.6 Z M929.2 641.2 L930.0 645.5 L944.5 649.8 M927.5 648.1 L937.7 651.5 M961.6 656.6 L966.7 651.5 L978.7 654.9 L984.7 658.3 L977.0 661.7 L971.9 665.1 L961.6 661.7 Z M966.7 651.5 L967.6 655.7 L978.7 659.2 M963.3 659.2 L971.9 662.6"/>
<path class="k" stroke-dasharray="2.5 1.5" style="stroke-width:2" d="M941.1 653.2 L966.7 660.0 M927.5 644.1 L944.5 648.1 M965.0 654.4 L978.7 657.8 M927.5 650.6 L936.0 653.2 M975.3 663.4 L983.8 660.0"/>
<path class="l" d="M903.6 758.2 L913.8 756.5 L915.5 753.1 L925.8 755.6 L924.0 761.6 L920.6 765.0 L934.3 770.2 L942.8 768.4 L944.5 764.2 L956.5 768.4 L955.6 773.6 L951.4 777.0 L942.8 778.7 L930.9 779.5 L903.6 768.4 Z M905.3 761.6 L920.6 766.7 M913.8 756.5 L912.9 761.6 M942.8 768.4 L942.8 773.6 M934.3 770.2 L932.6 775.3 M951.4 775.3 L953.1 777.8 L950.5 778.7"/>
<path class="k" stroke-dasharray="2.5 1.2" style="stroke-width:2.2" d="M914.7 754.4 L924.9 756.8 M913.8 759.1 L923.2 761.6 M943.7 765.4 L955.6 769.8 M942.8 770.2 L953.1 773.6 M904.4 769.3 L929.2 778.7 M907.0 764.2 L917.2 767.6 M934.3 772.7 L944.5 776.1"/>
</g>
<g transform="translate(0.0 0.0)">
<path class="w" d="M851.4 645.9 L853.0 641.1 L857.8 638.4 L862.0 638.9 L859.4 654.4 L855.6 653.4 L852.4 650.2 Z"/>
<path class="l" d="M853.0 641.1 L854.0 645.4 L852.4 650.2 M854.0 645.4 L856.2 645.9"/>
<ellipse class="w" cx="862.0" cy="647.2" rx="6.8" ry="8.4" transform="rotate(-15 862.0 647.2)"/>
<path class="w" d="M859.9 649.6 L859.4 646.4 L861.0 644.3 L863.6 644.3 L879.1 654.4 L879.7 657.1 L877.5 659.2 L874.9 659.2 Z"/>
<path class="l" d="M864.2 645.0 C863.8 645.5 862.2 647.0 862.0 648.0 C861.9 649.1 862.9 650.7 863.1 651.2 M867.4 647.0 C867.0 647.5 865.5 648.9 865.2 649.9 C865.0 651.0 865.9 652.6 866.0 653.2 M870.6 649.1 C870.2 649.6 868.7 651.1 868.4 652.1 C868.2 653.1 869.1 654.5 869.2 655.0 M873.8 651.0 C873.4 651.5 871.9 653.0 871.7 654.0 C871.4 655.0 872.3 656.6 872.4 657.1 M877.0 653.2 C876.6 653.7 875.1 655.2 874.9 656.1 C874.6 657.1 875.3 658.5 875.4 658.9"/>
</g>
<g transform="translate(-9.6 68.9)">
<path class="w" d="M851.4 645.9 L853.0 641.1 L857.8 638.4 L862.0 638.9 L859.4 654.4 L855.6 653.4 L852.4 650.2 Z"/>
<path class="l" d="M853.0 641.1 L854.0 645.4 L852.4 650.2 M854.0 645.4 L856.2 645.9"/>
<ellipse class="w" cx="862.0" cy="647.2" rx="6.8" ry="8.4" transform="rotate(-15 862.0 647.2)"/>
<path class="w" d="M859.9 649.6 L859.4 646.4 L861.0 644.3 L863.6 644.3 L879.1 654.4 L879.7 657.1 L877.5 659.2 L874.9 659.2 Z"/>
<path class="l" d="M864.2 645.0 C863.8 645.5 862.2 647.0 862.0 648.0 C861.9 649.1 862.9 650.7 863.1 651.2 M867.4 647.0 C867.0 647.5 865.5 648.9 865.2 649.9 C865.0 651.0 865.9 652.6 866.0 653.2 M870.6 649.1 C870.2 649.6 868.7 651.1 868.4 652.1 C868.2 653.1 869.1 654.5 869.2 655.0 M873.8 651.0 C873.4 651.5 871.9 653.0 871.7 654.0 C871.4 655.0 872.3 656.6 872.4 657.1 M877.0 653.2 C876.6 653.7 875.1 655.2 874.9 656.1 C874.6 657.1 875.3 658.5 875.4 658.9"/>
</g>
<g transform="translate(0.0 0.0)">
<path class="w" d="M1149.2 738.9 L1150.9 735.5 L1154.4 735.5 L1167.2 741.8 L1162.9 748.6 L1150.1 741.8 Z"/>
<path class="l" d="M1154.7 736.3 L1152.6 742.8 M1158.1 738.0 L1155.7 744.5 M1161.5 739.7 L1159.1 746.6"/>
<ellipse class="w" cx="1166.6" cy="747.4" rx="6.5" ry="8.3" transform="rotate(25 1166.6 747.4)"/>
<path class="w" d="M1167.2 748.3 C1167.0 746.3 1167.6 743.6 1168.9 742.3 C1170.1 741.0 1173.1 740.2 1174.8 740.6 C1176.5 741.0 1178.4 743.2 1179.1 744.9 C1179.8 746.6 1179.8 749.1 1179.1 750.8 C1178.4 752.5 1176.4 754.5 1174.8 755.1 C1173.3 755.7 1171.0 755.4 1169.7 754.2 C1168.4 753.1 1167.3 750.3 1167.2 748.3 Z"/>
<path class="l" d="M1169.4 743.2 L1172.3 746.6 L1178.6 745.7 M1172.3 746.6 L1171.4 754.8 M1165.4 750.8 L1168.0 752.5"/>
</g>
<g transform="translate(-5.1 70.0)">
<path class="w" d="M1149.2 738.9 L1150.9 735.5 L1154.4 735.5 L1167.2 741.8 L1162.9 748.6 L1150.1 741.8 Z"/>
<path class="l" d="M1154.7 736.3 L1152.6 742.8 M1158.1 738.0 L1155.7 744.5 M1161.5 739.7 L1159.1 746.6"/>
<ellipse class="w" cx="1166.6" cy="747.4" rx="6.5" ry="8.3" transform="rotate(25 1166.6 747.4)"/>
<path class="w" d="M1167.2 748.3 C1167.0 746.3 1167.6 743.6 1168.9 742.3 C1170.1 741.0 1173.1 740.2 1174.8 740.6 C1176.5 741.0 1178.4 743.2 1179.1 744.9 C1179.8 746.6 1179.8 749.1 1179.1 750.8 C1178.4 752.5 1176.4 754.5 1174.8 755.1 C1173.3 755.7 1171.0 755.4 1169.7 754.2 C1168.4 753.1 1167.3 750.3 1167.2 748.3 Z"/>
<path class="l" d="M1169.4 743.2 L1172.3 746.6 L1178.6 745.7 M1172.3 746.6 L1171.4 754.8 M1165.4 750.8 L1168.0 752.5"/>
</g>
</g>
<!-- 90_labels.svg -->
<g id="labels" class="t" text-anchor="middle">
<text x="452.2" y="816.3">200</text>
<text x="620.0" y="261.6">60</text>
<text x="893.3" y="306.1">20</text>
<text x="949.5" y="299.4">30</text>
<text x="425.8" y="494.1">180</text>
<text x="394.2" y="595.4">260</text>
<text x="636.1" y="730.2">210</text>
<text x="223.5" y="708.4">250</text>
<text x="1163.0" y="322.9">120</text>
<text x="1228.1" y="365.9">125</text>
<text x="1062.0" y="563.4">100</text>
<text x="1017.6" y="614.4">130</text>
<text x="860.9" y="682.9">140</text>
<text x="857.0" y="748.7">140</text>
<text x="1174.8" y="731.9">140</text>
<text x="1174.0" y="801.0">140</text>
<text x="1090.4" y="259.4">115</text>
<text x="880.0" y="237.5">10</text>
<text x="980.9" y="215.0">110</text>
<text x="472.5" y="422.4">170</text>
<text x="495.3" y="225.0">70</text>
<text x="467.0" y="314.2">70</text>
<text x="551.7" y="317.3">80</text>
<text x="819.0" y="392.2">40</text>
</g>
</svg>
</body>
</html>
